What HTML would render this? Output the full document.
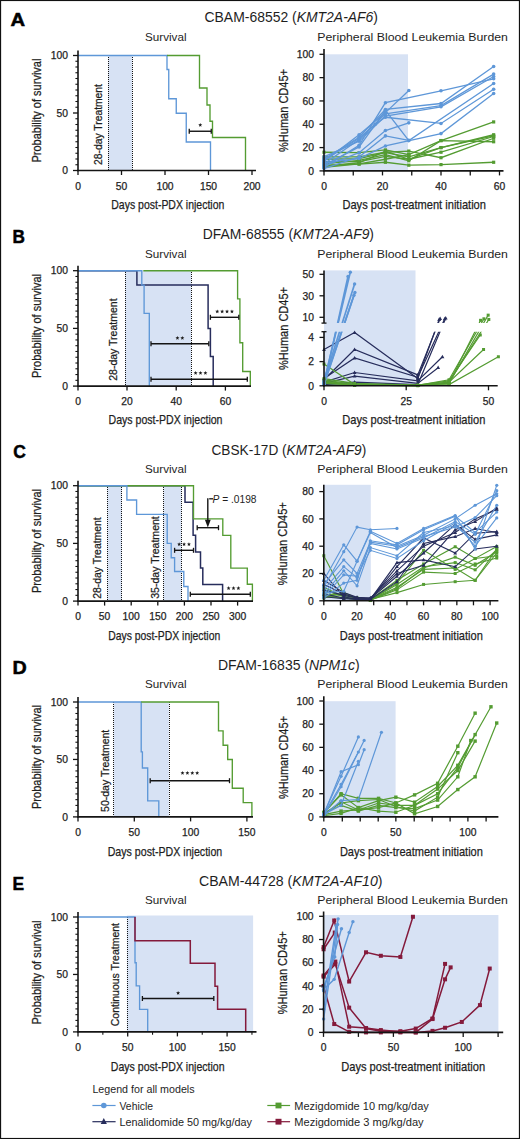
<!DOCTYPE html><html><head><meta charset="utf-8"><style>html,body{margin:0;padding:0;background:#fff;}svg{display:block;font-family:"Liberation Sans", sans-serif;}.m{stroke:#1e1e1e;stroke-width:0.25px;}</style></head><body>
<svg width="520" height="1139" viewBox="0 0 520 1139">
<rect x="0" y="0" width="520" height="1139" fill="#fff" />
<text x="10.5" y="26" font-size="18" text-anchor="start" fill="#000" font-weight="bold" textLength="14.6" lengthAdjust="spacingAndGlyphs" stroke="#000" stroke-width="0.5">A</text>
<text x="204.5" y="22.3" font-size="14" text-anchor="start" fill="#1e1e1e" textLength="173.5" lengthAdjust="spacingAndGlyphs" >CBAM-68552 (<tspan font-style="italic">KMT2A-AF6</tspan>)</text>
<text x="145" y="40.9" font-size="11.8" text-anchor="start" fill="#1e1e1e" textLength="41.5" lengthAdjust="spacingAndGlyphs" >Survival</text>
<text x="317.3" y="40.9" font-size="11.8" text-anchor="start" fill="#1e1e1e" textLength="190.6" lengthAdjust="spacingAndGlyphs" >Peripheral Blood Leukemia Burden</text>
<rect x="108.2" y="55.5" width="24.1" height="115" fill="#d7e2f4" />
<line x1="108.5" y1="55" x2="108.5" y2="170.5" stroke="#141414" stroke-width="1" stroke-dasharray="1 1"/>
<line x1="132.5" y1="55" x2="132.5" y2="170.5" stroke="#141414" stroke-width="1" stroke-dasharray="1 1"/>
<text x="101.8" y="165" font-size="11.2" text-anchor="start" fill="#1e1e1e" textLength="81" lengthAdjust="spacingAndGlyphs" transform="rotate(-90 101.8 165)" class="m">28-day Treatment</text>
<path d="M78,55.5 L167,55.5 L167,69.5 L168.75,69.5 L168.75,98.75 L176.25,98.75 L176.25,113.25 L186.25,113.25 L186.25,142 L210.5,142 L210.5,170.5" fill="none" stroke="#5e97d8" stroke-width="1.35" stroke-linejoin="miter"/>
<path d="M167,55.5 L199.5,55.5 L199.5,88 L207,88 L207,105 L210,105 L210,121.25 L212.5,121.25 L212.5,137.5 L245.5,137.5 L245.5,170.5" fill="none" stroke="#549c32" stroke-width="1.35" stroke-linejoin="miter"/>
<line x1="189.25" y1="131.25" x2="211.25" y2="131.25" stroke="#141414" stroke-width="1.4" />
<line x1="189.25" y1="128.75" x2="189.25" y2="133.75" stroke="#141414" stroke-width="1.3" />
<line x1="211.25" y1="128.75" x2="211.25" y2="133.75" stroke="#141414" stroke-width="1.3" />
<polygon points="200.25,122.9 200.81,124.24 202.25,124.35 201.15,125.29 201.48,126.7 200.25,125.94 199.02,126.7 199.35,125.29 198.25,124.35 199.69,124.24" fill="#1e1e1e"/>
<line x1="78" y1="50.5" x2="78" y2="171.2" stroke="#141414" stroke-width="1.6" />
<line x1="77.2" y1="170.5" x2="256" y2="170.5" stroke="#141414" stroke-width="1.6" />
<line x1="73" y1="170.5" x2="78" y2="170.5" stroke="#141414" stroke-width="1.3" />
<line x1="75.4" y1="164.75" x2="78" y2="164.75" stroke="#141414" stroke-width="1.1" />
<line x1="75.4" y1="159" x2="78" y2="159" stroke="#141414" stroke-width="1.1" />
<line x1="75.4" y1="153.25" x2="78" y2="153.25" stroke="#141414" stroke-width="1.1" />
<line x1="75.4" y1="147.5" x2="78" y2="147.5" stroke="#141414" stroke-width="1.1" />
<line x1="75.4" y1="141.75" x2="78" y2="141.75" stroke="#141414" stroke-width="1.1" />
<line x1="75.4" y1="136" x2="78" y2="136" stroke="#141414" stroke-width="1.1" />
<line x1="75.4" y1="130.25" x2="78" y2="130.25" stroke="#141414" stroke-width="1.1" />
<line x1="75.4" y1="124.5" x2="78" y2="124.5" stroke="#141414" stroke-width="1.1" />
<line x1="75.4" y1="118.75" x2="78" y2="118.75" stroke="#141414" stroke-width="1.1" />
<line x1="73" y1="113" x2="78" y2="113" stroke="#141414" stroke-width="1.3" />
<line x1="75.4" y1="107.25" x2="78" y2="107.25" stroke="#141414" stroke-width="1.1" />
<line x1="75.4" y1="101.5" x2="78" y2="101.5" stroke="#141414" stroke-width="1.1" />
<line x1="75.4" y1="95.75" x2="78" y2="95.75" stroke="#141414" stroke-width="1.1" />
<line x1="75.4" y1="90" x2="78" y2="90" stroke="#141414" stroke-width="1.1" />
<line x1="75.4" y1="84.25" x2="78" y2="84.25" stroke="#141414" stroke-width="1.1" />
<line x1="75.4" y1="78.5" x2="78" y2="78.5" stroke="#141414" stroke-width="1.1" />
<line x1="75.4" y1="72.75" x2="78" y2="72.75" stroke="#141414" stroke-width="1.1" />
<line x1="75.4" y1="67" x2="78" y2="67" stroke="#141414" stroke-width="1.1" />
<line x1="75.4" y1="61.25" x2="78" y2="61.25" stroke="#141414" stroke-width="1.1" />
<line x1="73" y1="55.5" x2="78" y2="55.5" stroke="#141414" stroke-width="1.3" />
<text x="68" y="59.2" font-size="10.3" text-anchor="end" fill="#1e1e1e" class="m">100</text>
<text x="68" y="116.7" font-size="10.3" text-anchor="end" fill="#1e1e1e" class="m">50</text>
<text x="68" y="174.2" font-size="10.3" text-anchor="end" fill="#1e1e1e" class="m">0</text>
<line x1="78" y1="170.5" x2="78" y2="175" stroke="#141414" stroke-width="1.3" />
<text x="78" y="189.5" font-size="10.3" text-anchor="middle" fill="#1e1e1e" class="m">0</text>
<line x1="121.5" y1="170.5" x2="121.5" y2="175" stroke="#141414" stroke-width="1.3" />
<text x="121.5" y="189.5" font-size="10.3" text-anchor="middle" fill="#1e1e1e" class="m">50</text>
<line x1="165" y1="170.5" x2="165" y2="175" stroke="#141414" stroke-width="1.3" />
<text x="165" y="189.5" font-size="10.3" text-anchor="middle" fill="#1e1e1e" class="m">100</text>
<line x1="208.5" y1="170.5" x2="208.5" y2="175" stroke="#141414" stroke-width="1.3" />
<text x="208.5" y="189.5" font-size="10.3" text-anchor="middle" fill="#1e1e1e" class="m">150</text>
<line x1="252" y1="170.5" x2="252" y2="175" stroke="#141414" stroke-width="1.3" />
<text x="252" y="189.5" font-size="10.3" text-anchor="middle" fill="#1e1e1e" class="m">200</text>
<text x="40.8" y="110.6" font-size="12" text-anchor="middle" fill="#1e1e1e" textLength="104" lengthAdjust="spacingAndGlyphs" transform="rotate(-90 40.8 110.6)" class="m">Probability of survival</text>
<text x="167.8" y="208.9" font-size="12.8" text-anchor="middle" fill="#1e1e1e" textLength="113" lengthAdjust="spacingAndGlyphs" class="m">Days post-PDX injection</text>
<rect x="324" y="54.3" width="84" height="116.6" fill="#d7e2f4" />
<polyline points="324,152.24 359.1,152.71 385.43,149.91 408.82,154.58 441,140.58 493.65,121.93" fill="none" stroke="#549c32" stroke-width="1.3" stroke-linejoin="miter" />
<polyline points="324,159.24 359.1,158.54 385.43,152.71 408.82,156.91 441,147.58 493.65,134.75" fill="none" stroke="#549c32" stroke-width="1.3" stroke-linejoin="miter" />
<polyline points="324,161.57 359.1,161.57 385.43,156.44 408.82,159.24 441,152.24 493.65,136.5" fill="none" stroke="#549c32" stroke-width="1.3" stroke-linejoin="miter" />
<polyline points="324,165.07 359.1,164.14 385.43,162.27 408.82,165.19 441,164.6 493.65,162.27" fill="none" stroke="#549c32" stroke-width="1.3" stroke-linejoin="miter" />
<polyline points="324,156.91 359.1,156.91 385.43,152.24 408.82,151.08 441,157.72 493.65,138.25" fill="none" stroke="#549c32" stroke-width="1.3" stroke-linejoin="miter" />
<polyline points="324,163.9 359.1,160.41 385.43,154.58 408.82,160.76 441,140.58 493.65,141.75" fill="none" stroke="#549c32" stroke-width="1.3" stroke-linejoin="miter" />
<polyline points="324,167.4 359.1,163.9 385.43,159.24 408.82,154.58" fill="none" stroke="#549c32" stroke-width="1.3" stroke-linejoin="miter" />
<polyline points="324,166.24 359.1,162.74 385.43,151.08 408.82,159.24 441,147.58 493.65,135.92" fill="none" stroke="#549c32" stroke-width="1.3" stroke-linejoin="miter" />
<rect x="322.4" y="150.64" width="3.2" height="3.2" fill="#549c32"/>
<rect x="357.5" y="151.11" width="3.2" height="3.2" fill="#549c32"/>
<rect x="383.82" y="148.31" width="3.2" height="3.2" fill="#549c32"/>
<rect x="407.22" y="152.98" width="3.2" height="3.2" fill="#549c32"/>
<rect x="439.4" y="138.98" width="3.2" height="3.2" fill="#549c32"/>
<rect x="492.05" y="120.33" width="3.2" height="3.2" fill="#549c32"/>
<rect x="322.4" y="157.64" width="3.2" height="3.2" fill="#549c32"/>
<rect x="357.5" y="156.94" width="3.2" height="3.2" fill="#549c32"/>
<rect x="383.82" y="151.11" width="3.2" height="3.2" fill="#549c32"/>
<rect x="407.22" y="155.31" width="3.2" height="3.2" fill="#549c32"/>
<rect x="439.4" y="145.98" width="3.2" height="3.2" fill="#549c32"/>
<rect x="492.05" y="133.15" width="3.2" height="3.2" fill="#549c32"/>
<rect x="322.4" y="159.97" width="3.2" height="3.2" fill="#549c32"/>
<rect x="357.5" y="159.97" width="3.2" height="3.2" fill="#549c32"/>
<rect x="383.82" y="154.84" width="3.2" height="3.2" fill="#549c32"/>
<rect x="407.22" y="157.64" width="3.2" height="3.2" fill="#549c32"/>
<rect x="439.4" y="150.64" width="3.2" height="3.2" fill="#549c32"/>
<rect x="492.05" y="134.9" width="3.2" height="3.2" fill="#549c32"/>
<rect x="322.4" y="163.47" width="3.2" height="3.2" fill="#549c32"/>
<rect x="357.5" y="162.54" width="3.2" height="3.2" fill="#549c32"/>
<rect x="383.82" y="160.67" width="3.2" height="3.2" fill="#549c32"/>
<rect x="407.22" y="163.59" width="3.2" height="3.2" fill="#549c32"/>
<rect x="439.4" y="163" width="3.2" height="3.2" fill="#549c32"/>
<rect x="492.05" y="160.67" width="3.2" height="3.2" fill="#549c32"/>
<rect x="322.4" y="155.31" width="3.2" height="3.2" fill="#549c32"/>
<rect x="357.5" y="155.31" width="3.2" height="3.2" fill="#549c32"/>
<rect x="383.82" y="150.64" width="3.2" height="3.2" fill="#549c32"/>
<rect x="407.22" y="149.48" width="3.2" height="3.2" fill="#549c32"/>
<rect x="439.4" y="156.12" width="3.2" height="3.2" fill="#549c32"/>
<rect x="492.05" y="136.65" width="3.2" height="3.2" fill="#549c32"/>
<rect x="322.4" y="162.3" width="3.2" height="3.2" fill="#549c32"/>
<rect x="357.5" y="158.81" width="3.2" height="3.2" fill="#549c32"/>
<rect x="383.82" y="152.98" width="3.2" height="3.2" fill="#549c32"/>
<rect x="407.22" y="159.16" width="3.2" height="3.2" fill="#549c32"/>
<rect x="439.4" y="138.98" width="3.2" height="3.2" fill="#549c32"/>
<rect x="492.05" y="140.15" width="3.2" height="3.2" fill="#549c32"/>
<rect x="322.4" y="165.8" width="3.2" height="3.2" fill="#549c32"/>
<rect x="357.5" y="162.3" width="3.2" height="3.2" fill="#549c32"/>
<rect x="383.82" y="157.64" width="3.2" height="3.2" fill="#549c32"/>
<rect x="407.22" y="152.98" width="3.2" height="3.2" fill="#549c32"/>
<rect x="322.4" y="164.64" width="3.2" height="3.2" fill="#549c32"/>
<rect x="357.5" y="161.14" width="3.2" height="3.2" fill="#549c32"/>
<rect x="383.82" y="149.48" width="3.2" height="3.2" fill="#549c32"/>
<rect x="407.22" y="157.64" width="3.2" height="3.2" fill="#549c32"/>
<rect x="439.4" y="145.98" width="3.2" height="3.2" fill="#549c32"/>
<rect x="492.05" y="134.32" width="3.2" height="3.2" fill="#549c32"/>
<polyline points="324,161.57 359.1,134.75 385.43,112.6 408.82,90.45" fill="none" stroke="#5e97d8" stroke-width="1.3" stroke-linejoin="miter" />
<polyline points="324,167.4 359.1,145.25 385.43,102.69 441,90.8 493.65,78.79" fill="none" stroke="#5e97d8" stroke-width="1.3" stroke-linejoin="miter" />
<polyline points="324,159.24 359.1,137.32 385.43,109.45 441,103.51 493.65,66.54" fill="none" stroke="#5e97d8" stroke-width="1.3" stroke-linejoin="miter" />
<polyline points="324,163.9 359.1,139.42 385.43,113.77 441,105.6 493.65,74.12" fill="none" stroke="#5e97d8" stroke-width="1.3" stroke-linejoin="miter" />
<polyline points="324,156.91 359.1,141.17 385.43,116.1 441,106.77 493.65,76.45" fill="none" stroke="#5e97d8" stroke-width="1.3" stroke-linejoin="miter" />
<polyline points="324,165.07 359.1,146.88 385.43,110.27 408.82,140.58 493.65,83.45" fill="none" stroke="#5e97d8" stroke-width="1.3" stroke-linejoin="miter" />
<polyline points="324,166.24 359.1,152.71 385.43,130.56 408.82,122.86" fill="none" stroke="#5e97d8" stroke-width="1.3" stroke-linejoin="miter" />
<polyline points="324,162.74 359.1,158.54 385.43,145.95 441,133.59 493.65,93.48" fill="none" stroke="#5e97d8" stroke-width="1.3" stroke-linejoin="miter" />
<polyline points="324,160.41 359.1,138.25 375.19,124.26 385.43,117.26 441,123.44 493.65,89.28" fill="none" stroke="#5e97d8" stroke-width="1.3" stroke-linejoin="miter" />
<polyline points="324,168.57 359.1,156.91 385.43,135.92 408.82,140.35" fill="none" stroke="#5e97d8" stroke-width="1.3" stroke-linejoin="miter" />
<circle cx="324" cy="161.57" r="1.8" fill="#5e97d8"/>
<circle cx="359.1" cy="134.75" r="1.8" fill="#5e97d8"/>
<circle cx="385.43" cy="112.6" r="1.8" fill="#5e97d8"/>
<circle cx="408.82" cy="90.45" r="1.8" fill="#5e97d8"/>
<circle cx="324" cy="167.4" r="1.8" fill="#5e97d8"/>
<circle cx="359.1" cy="145.25" r="1.8" fill="#5e97d8"/>
<circle cx="385.43" cy="102.69" r="1.8" fill="#5e97d8"/>
<circle cx="441" cy="90.8" r="1.8" fill="#5e97d8"/>
<circle cx="493.65" cy="78.79" r="1.8" fill="#5e97d8"/>
<circle cx="324" cy="159.24" r="1.8" fill="#5e97d8"/>
<circle cx="359.1" cy="137.32" r="1.8" fill="#5e97d8"/>
<circle cx="385.43" cy="109.45" r="1.8" fill="#5e97d8"/>
<circle cx="441" cy="103.51" r="1.8" fill="#5e97d8"/>
<circle cx="493.65" cy="66.54" r="1.8" fill="#5e97d8"/>
<circle cx="324" cy="163.9" r="1.8" fill="#5e97d8"/>
<circle cx="359.1" cy="139.42" r="1.8" fill="#5e97d8"/>
<circle cx="385.43" cy="113.77" r="1.8" fill="#5e97d8"/>
<circle cx="441" cy="105.6" r="1.8" fill="#5e97d8"/>
<circle cx="493.65" cy="74.12" r="1.8" fill="#5e97d8"/>
<circle cx="324" cy="156.91" r="1.8" fill="#5e97d8"/>
<circle cx="359.1" cy="141.17" r="1.8" fill="#5e97d8"/>
<circle cx="385.43" cy="116.1" r="1.8" fill="#5e97d8"/>
<circle cx="441" cy="106.77" r="1.8" fill="#5e97d8"/>
<circle cx="493.65" cy="76.45" r="1.8" fill="#5e97d8"/>
<circle cx="324" cy="165.07" r="1.8" fill="#5e97d8"/>
<circle cx="359.1" cy="146.88" r="1.8" fill="#5e97d8"/>
<circle cx="385.43" cy="110.27" r="1.8" fill="#5e97d8"/>
<circle cx="408.82" cy="140.58" r="1.8" fill="#5e97d8"/>
<circle cx="493.65" cy="83.45" r="1.8" fill="#5e97d8"/>
<circle cx="324" cy="166.24" r="1.8" fill="#5e97d8"/>
<circle cx="359.1" cy="152.71" r="1.8" fill="#5e97d8"/>
<circle cx="385.43" cy="130.56" r="1.8" fill="#5e97d8"/>
<circle cx="408.82" cy="122.86" r="1.8" fill="#5e97d8"/>
<circle cx="324" cy="162.74" r="1.8" fill="#5e97d8"/>
<circle cx="359.1" cy="158.54" r="1.8" fill="#5e97d8"/>
<circle cx="385.43" cy="145.95" r="1.8" fill="#5e97d8"/>
<circle cx="441" cy="133.59" r="1.8" fill="#5e97d8"/>
<circle cx="493.65" cy="93.48" r="1.8" fill="#5e97d8"/>
<circle cx="324" cy="160.41" r="1.8" fill="#5e97d8"/>
<circle cx="359.1" cy="138.25" r="1.8" fill="#5e97d8"/>
<circle cx="375.19" cy="124.26" r="1.8" fill="#5e97d8"/>
<circle cx="385.43" cy="117.26" r="1.8" fill="#5e97d8"/>
<circle cx="441" cy="123.44" r="1.8" fill="#5e97d8"/>
<circle cx="493.65" cy="89.28" r="1.8" fill="#5e97d8"/>
<circle cx="324" cy="168.57" r="1.8" fill="#5e97d8"/>
<circle cx="359.1" cy="156.91" r="1.8" fill="#5e97d8"/>
<circle cx="385.43" cy="135.92" r="1.8" fill="#5e97d8"/>
<circle cx="408.82" cy="140.35" r="1.8" fill="#5e97d8"/>
<line x1="324" y1="49" x2="324" y2="171.6" stroke="#141414" stroke-width="1.6" />
<line x1="323.2" y1="170.9" x2="503.5" y2="170.9" stroke="#141414" stroke-width="1.6" />
<line x1="319.5" y1="170.9" x2="324" y2="170.9" stroke="#141414" stroke-width="1.3" />
<text x="314" y="174.6" font-size="10.3" text-anchor="end" fill="#1e1e1e" class="m">0</text>
<line x1="319.5" y1="147.58" x2="324" y2="147.58" stroke="#141414" stroke-width="1.3" />
<text x="314" y="151.28" font-size="10.3" text-anchor="end" fill="#1e1e1e" class="m">20</text>
<line x1="319.5" y1="124.26" x2="324" y2="124.26" stroke="#141414" stroke-width="1.3" />
<text x="314" y="127.96" font-size="10.3" text-anchor="end" fill="#1e1e1e" class="m">40</text>
<line x1="319.5" y1="100.94" x2="324" y2="100.94" stroke="#141414" stroke-width="1.3" />
<text x="314" y="104.64" font-size="10.3" text-anchor="end" fill="#1e1e1e" class="m">60</text>
<line x1="319.5" y1="77.62" x2="324" y2="77.62" stroke="#141414" stroke-width="1.3" />
<text x="314" y="81.32" font-size="10.3" text-anchor="end" fill="#1e1e1e" class="m">80</text>
<line x1="319.5" y1="54.3" x2="324" y2="54.3" stroke="#141414" stroke-width="1.3" />
<text x="314" y="58" font-size="10.3" text-anchor="end" fill="#1e1e1e" class="m">100</text>
<line x1="324" y1="170.9" x2="324" y2="175.4" stroke="#141414" stroke-width="1.3" />
<text x="324" y="189.9" font-size="10.3" text-anchor="middle" fill="#1e1e1e" class="m">0</text>
<line x1="382.5" y1="170.9" x2="382.5" y2="175.4" stroke="#141414" stroke-width="1.3" />
<text x="382.5" y="189.9" font-size="10.3" text-anchor="middle" fill="#1e1e1e" class="m">20</text>
<line x1="441" y1="170.9" x2="441" y2="175.4" stroke="#141414" stroke-width="1.3" />
<text x="441" y="189.9" font-size="10.3" text-anchor="middle" fill="#1e1e1e" class="m">40</text>
<line x1="499.5" y1="170.9" x2="499.5" y2="175.4" stroke="#141414" stroke-width="1.3" />
<text x="499.5" y="189.9" font-size="10.3" text-anchor="middle" fill="#1e1e1e" class="m">60</text>
<line x1="353.25" y1="170.9" x2="353.25" y2="175.4" stroke="#141414" stroke-width="1.3" />
<line x1="411.75" y1="170.9" x2="411.75" y2="175.4" stroke="#141414" stroke-width="1.3" />
<line x1="470.25" y1="170.9" x2="470.25" y2="175.4" stroke="#141414" stroke-width="1.3" />
<text x="287.5" y="110.5" font-size="12" text-anchor="middle" fill="#1e1e1e" textLength="83" lengthAdjust="spacingAndGlyphs" transform="rotate(-90 287.5 110.5)" class="m">%Human CD45+</text>
<text x="414.2" y="209" font-size="12.8" text-anchor="middle" fill="#1e1e1e" textLength="143.5" lengthAdjust="spacingAndGlyphs" class="m">Days post-treatment initiation</text>
<text x="12.6" y="242.5" font-size="18" text-anchor="start" fill="#000" font-weight="bold" textLength="12.4" lengthAdjust="spacingAndGlyphs" stroke="#000" stroke-width="0.5">B</text>
<text x="202.8" y="239.2" font-size="14" text-anchor="start" fill="#1e1e1e" textLength="171.2" lengthAdjust="spacingAndGlyphs" >DFAM-68555 (<tspan font-style="italic">KMT2A-AF9</tspan>)</text>
<text x="145" y="257.9" font-size="11.8" text-anchor="start" fill="#1e1e1e" textLength="41.5" lengthAdjust="spacingAndGlyphs" >Survival</text>
<text x="317.3" y="257.9" font-size="11.8" text-anchor="start" fill="#1e1e1e" textLength="190.6" lengthAdjust="spacingAndGlyphs" >Peripheral Blood Leukemia Burden</text>
<rect x="125" y="270.7" width="66.2" height="115.4" fill="#d7e2f4" />
<line x1="125.5" y1="270" x2="125.5" y2="386.1" stroke="#141414" stroke-width="1" stroke-dasharray="1 1"/>
<line x1="191.5" y1="270" x2="191.5" y2="386.1" stroke="#141414" stroke-width="1" stroke-dasharray="1 1"/>
<text x="117.5" y="380.8" font-size="11.2" text-anchor="start" fill="#1e1e1e" textLength="82.4" lengthAdjust="spacingAndGlyphs" transform="rotate(-90 117.5 380.8)" class="m">28-day Treatment</text>
<path d="M78,270.7 L136.9,270.7 L136.9,285.1 L208.1,285.1 L208.1,328.4 L210.4,328.4 L210.4,356.5 L213.2,356.5 L213.2,386.1" fill="none" stroke="#272d5c" stroke-width="1.5" stroke-linejoin="miter"/>
<path d="M143.3,270.7 L237.6,270.7 L237.6,298.8 L239.9,298.8 L239.9,342.7 L242.7,342.7 L242.7,371.5 L250.3,371.5 L250.3,386.1" fill="none" stroke="#549c32" stroke-width="1.35" stroke-linejoin="miter"/>
<path d="M78,270.7 L141.8,270.7 L141.8,285.1 L144.1,285.1 L144.1,313.4 L149.3,313.4 L149.3,386.1" fill="none" stroke="#5e97d8" stroke-width="1.35" stroke-linejoin="miter"/>
<line x1="210.4" y1="317.3" x2="238.8" y2="317.3" stroke="#141414" stroke-width="1.4" />
<line x1="210.4" y1="314.8" x2="210.4" y2="319.8" stroke="#141414" stroke-width="1.3" />
<line x1="238.8" y1="314.8" x2="238.8" y2="319.8" stroke="#141414" stroke-width="1.3" />
<polygon points="217.25,309.4 217.81,310.74 219.25,310.85 218.15,311.79 218.48,313.2 217.25,312.44 216.02,313.2 216.35,311.79 215.25,310.85 216.69,310.74" fill="#1e1e1e"/>
<polygon points="222.15,309.4 222.71,310.74 224.15,310.85 223.05,311.79 223.38,313.2 222.15,312.44 220.92,313.2 221.25,311.79 220.15,310.85 221.59,310.74" fill="#1e1e1e"/>
<polygon points="227.05,309.4 227.61,310.74 229.05,310.85 227.95,311.79 228.28,313.2 227.05,312.44 225.82,313.2 226.15,311.79 225.05,310.85 226.49,310.74" fill="#1e1e1e"/>
<polygon points="231.95,309.4 232.51,310.74 233.95,310.85 232.85,311.79 233.18,313.2 231.95,312.44 230.72,313.2 231.05,311.79 229.95,310.85 231.39,310.74" fill="#1e1e1e"/>
<line x1="151" y1="343.8" x2="208.8" y2="343.8" stroke="#141414" stroke-width="1.4" />
<line x1="151" y1="341.3" x2="151" y2="346.3" stroke="#141414" stroke-width="1.3" />
<line x1="208.8" y1="341.3" x2="208.8" y2="346.3" stroke="#141414" stroke-width="1.3" />
<polygon points="177.45,335.9 178.01,337.24 179.45,337.35 178.35,338.29 178.68,339.7 177.45,338.94 176.22,339.7 176.55,338.29 175.45,337.35 176.89,337.24" fill="#1e1e1e"/>
<polygon points="182.35,335.9 182.91,337.24 184.35,337.35 183.25,338.29 183.58,339.7 182.35,338.94 181.12,339.7 181.45,338.29 180.35,337.35 181.79,337.24" fill="#1e1e1e"/>
<line x1="151" y1="379.2" x2="247.3" y2="379.2" stroke="#141414" stroke-width="1.4" />
<line x1="151" y1="376.7" x2="151" y2="381.7" stroke="#141414" stroke-width="1.3" />
<line x1="247.3" y1="376.7" x2="247.3" y2="381.7" stroke="#141414" stroke-width="1.3" />
<polygon points="195.6,370.9 196.16,372.24 197.6,372.35 196.5,373.29 196.83,374.7 195.6,373.94 194.37,374.7 194.7,373.29 193.6,372.35 195.04,372.24" fill="#1e1e1e"/>
<polygon points="200.5,370.9 201.06,372.24 202.5,372.35 201.4,373.29 201.73,374.7 200.5,373.94 199.27,374.7 199.6,373.29 198.5,372.35 199.94,372.24" fill="#1e1e1e"/>
<polygon points="205.4,370.9 205.96,372.24 207.4,372.35 206.3,373.29 206.63,374.7 205.4,373.94 204.17,374.7 204.5,373.29 203.4,372.35 204.84,372.24" fill="#1e1e1e"/>
<line x1="78" y1="265.7" x2="78" y2="386.8" stroke="#141414" stroke-width="1.6" />
<line x1="77.2" y1="386.1" x2="251" y2="386.1" stroke="#141414" stroke-width="1.6" />
<line x1="73" y1="386.1" x2="78" y2="386.1" stroke="#141414" stroke-width="1.3" />
<line x1="75.4" y1="380.33" x2="78" y2="380.33" stroke="#141414" stroke-width="1.1" />
<line x1="75.4" y1="374.56" x2="78" y2="374.56" stroke="#141414" stroke-width="1.1" />
<line x1="75.4" y1="368.79" x2="78" y2="368.79" stroke="#141414" stroke-width="1.1" />
<line x1="75.4" y1="363.02" x2="78" y2="363.02" stroke="#141414" stroke-width="1.1" />
<line x1="75.4" y1="357.25" x2="78" y2="357.25" stroke="#141414" stroke-width="1.1" />
<line x1="75.4" y1="351.48" x2="78" y2="351.48" stroke="#141414" stroke-width="1.1" />
<line x1="75.4" y1="345.71" x2="78" y2="345.71" stroke="#141414" stroke-width="1.1" />
<line x1="75.4" y1="339.94" x2="78" y2="339.94" stroke="#141414" stroke-width="1.1" />
<line x1="75.4" y1="334.17" x2="78" y2="334.17" stroke="#141414" stroke-width="1.1" />
<line x1="73" y1="328.4" x2="78" y2="328.4" stroke="#141414" stroke-width="1.3" />
<line x1="75.4" y1="322.63" x2="78" y2="322.63" stroke="#141414" stroke-width="1.1" />
<line x1="75.4" y1="316.86" x2="78" y2="316.86" stroke="#141414" stroke-width="1.1" />
<line x1="75.4" y1="311.09" x2="78" y2="311.09" stroke="#141414" stroke-width="1.1" />
<line x1="75.4" y1="305.32" x2="78" y2="305.32" stroke="#141414" stroke-width="1.1" />
<line x1="75.4" y1="299.55" x2="78" y2="299.55" stroke="#141414" stroke-width="1.1" />
<line x1="75.4" y1="293.78" x2="78" y2="293.78" stroke="#141414" stroke-width="1.1" />
<line x1="75.4" y1="288.01" x2="78" y2="288.01" stroke="#141414" stroke-width="1.1" />
<line x1="75.4" y1="282.24" x2="78" y2="282.24" stroke="#141414" stroke-width="1.1" />
<line x1="75.4" y1="276.47" x2="78" y2="276.47" stroke="#141414" stroke-width="1.1" />
<line x1="73" y1="270.7" x2="78" y2="270.7" stroke="#141414" stroke-width="1.3" />
<text x="68" y="274.4" font-size="10.3" text-anchor="end" fill="#1e1e1e" class="m">100</text>
<text x="68" y="332.1" font-size="10.3" text-anchor="end" fill="#1e1e1e" class="m">50</text>
<text x="68" y="389.8" font-size="10.3" text-anchor="end" fill="#1e1e1e" class="m">0</text>
<line x1="78" y1="386.1" x2="78" y2="390.6" stroke="#141414" stroke-width="1.3" />
<text x="78" y="405.1" font-size="10.3" text-anchor="middle" fill="#1e1e1e" class="m">0</text>
<line x1="127" y1="386.1" x2="127" y2="390.6" stroke="#141414" stroke-width="1.3" />
<text x="127" y="405.1" font-size="10.3" text-anchor="middle" fill="#1e1e1e" class="m">20</text>
<line x1="176.2" y1="386.1" x2="176.2" y2="390.6" stroke="#141414" stroke-width="1.3" />
<text x="176.2" y="405.1" font-size="10.3" text-anchor="middle" fill="#1e1e1e" class="m">40</text>
<line x1="225.4" y1="386.1" x2="225.4" y2="390.6" stroke="#141414" stroke-width="1.3" />
<text x="225.4" y="405.1" font-size="10.3" text-anchor="middle" fill="#1e1e1e" class="m">60</text>
<text x="40.8" y="326" font-size="12" text-anchor="middle" fill="#1e1e1e" textLength="104" lengthAdjust="spacingAndGlyphs" transform="rotate(-90 40.8 326)" class="m">Probability of survival</text>
<text x="165.5" y="424.4" font-size="12.8" text-anchor="middle" fill="#1e1e1e" textLength="114" lengthAdjust="spacingAndGlyphs" class="m">Days post-PDX injection</text>
<clipPath id="cbU"><rect x="322" y="250" width="200" height="73.1"/></clipPath>
<clipPath id="cbL"><rect x="322" y="331.7" width="200" height="60"/></clipPath>
<rect x="324" y="270.4" width="91.5" height="115.4" fill="#d7e2f4" />
<polyline points="324,349.5 354.6,332.56 417.76,378.54 439.15,319.45" fill="none" stroke="#272d5c" stroke-width="1.2" stroke-linejoin="miter"  clip-path="url(#cbU)"/>
<polyline points="324,349.5 354.6,332.56 417.76,378.54 439.15,319.45" fill="none" stroke="#272d5c" stroke-width="1.2" stroke-linejoin="miter"  clip-path="url(#cbL)"/>
<polyline points="324,379.75 354.6,349.5 417.76,374.91 440.14,318.59" fill="none" stroke="#272d5c" stroke-width="1.2" stroke-linejoin="miter"  clip-path="url(#cbU)"/>
<polyline points="324,379.75 354.6,349.5 417.76,374.91 440.14,318.59" fill="none" stroke="#272d5c" stroke-width="1.2" stroke-linejoin="miter"  clip-path="url(#cbL)"/>
<polyline points="324,378.54 354.6,357.97 417.76,377.33 444.74,318.81" fill="none" stroke="#272d5c" stroke-width="1.2" stroke-linejoin="miter"  clip-path="url(#cbU)"/>
<polyline points="324,378.54 354.6,357.97 417.76,377.33 444.74,318.81" fill="none" stroke="#272d5c" stroke-width="1.2" stroke-linejoin="miter"  clip-path="url(#cbL)"/>
<polyline points="324,382.17 354.6,372.49 417.76,380.96 442.44,356.76" fill="none" stroke="#272d5c" stroke-width="1.2" stroke-linejoin="miter"  clip-path="url(#cbU)"/>
<polyline points="324,382.17 354.6,372.49 417.76,380.96 442.44,356.76" fill="none" stroke="#272d5c" stroke-width="1.2" stroke-linejoin="miter"  clip-path="url(#cbL)"/>
<polyline points="324,383.38 354.6,376.12 417.76,383.38 438.16,367.65" fill="none" stroke="#272d5c" stroke-width="1.2" stroke-linejoin="miter"  clip-path="url(#cbU)"/>
<polyline points="324,383.38 354.6,376.12 417.76,383.38 438.16,367.65" fill="none" stroke="#272d5c" stroke-width="1.2" stroke-linejoin="miter"  clip-path="url(#cbL)"/>
<polyline points="324,384.59 354.6,382.17 417.76,384.59 445.73,318.16" fill="none" stroke="#272d5c" stroke-width="1.2" stroke-linejoin="miter"  clip-path="url(#cbU)"/>
<polyline points="324,384.59 354.6,382.17 417.76,384.59 445.73,318.16" fill="none" stroke="#272d5c" stroke-width="1.2" stroke-linejoin="miter"  clip-path="url(#cbL)"/>
<polyline points="324,383.99 354.6,383.99 417.76,385.19" fill="none" stroke="#272d5c" stroke-width="1.2" stroke-linejoin="miter"  clip-path="url(#cbU)"/>
<polyline points="324,383.99 354.6,383.99 417.76,385.19" fill="none" stroke="#272d5c" stroke-width="1.2" stroke-linejoin="miter"  clip-path="url(#cbL)"/>
<polyline points="324,364.02 354.6,384.59 417.76,385.19 449.02,383.38 480.6,320.31" fill="none" stroke="#549c32" stroke-width="1.2" stroke-linejoin="miter"  clip-path="url(#cbU)"/>
<polyline points="324,364.02 354.6,384.59 417.76,385.19 449.02,383.38 480.6,320.31" fill="none" stroke="#549c32" stroke-width="1.2" stroke-linejoin="miter"  clip-path="url(#cbL)"/>
<polyline points="324,378.54 354.6,383.38 417.76,385.19 449.02,380.96 480.27,334.98" fill="none" stroke="#549c32" stroke-width="1.2" stroke-linejoin="miter"  clip-path="url(#cbU)"/>
<polyline points="324,378.54 354.6,383.38 417.76,385.19 449.02,380.96 480.27,334.98" fill="none" stroke="#549c32" stroke-width="1.2" stroke-linejoin="miter"  clip-path="url(#cbL)"/>
<polyline points="324,382.17 354.6,385.19 417.76,385.56 449.02,382.17 483.56,349.5" fill="none" stroke="#549c32" stroke-width="1.2" stroke-linejoin="miter"  clip-path="url(#cbU)"/>
<polyline points="324,382.17 354.6,385.19 417.76,385.56 449.02,382.17 483.56,349.5" fill="none" stroke="#549c32" stroke-width="1.2" stroke-linejoin="miter"  clip-path="url(#cbL)"/>
<polyline points="324,383.38 354.6,385.19 417.76,385.56 449.02,384.59 498.37,356.76" fill="none" stroke="#549c32" stroke-width="1.2" stroke-linejoin="miter"  clip-path="url(#cbU)"/>
<polyline points="324,383.38 354.6,385.19 417.76,385.56 449.02,384.59 498.37,356.76" fill="none" stroke="#549c32" stroke-width="1.2" stroke-linejoin="miter"  clip-path="url(#cbL)"/>
<polyline points="324,379.75 354.6,384.59 417.76,385.44 449.02,379.75 483.89,318.81" fill="none" stroke="#549c32" stroke-width="1.2" stroke-linejoin="miter"  clip-path="url(#cbU)"/>
<polyline points="324,379.75 354.6,384.59 417.76,385.44 449.02,379.75 483.89,318.81" fill="none" stroke="#549c32" stroke-width="1.2" stroke-linejoin="miter"  clip-path="url(#cbL)"/>
<polyline points="324,380.96 354.6,385.19 417.76,385.56 449.02,383.38 488.17,315.15" fill="none" stroke="#549c32" stroke-width="1.2" stroke-linejoin="miter"  clip-path="url(#cbU)"/>
<polyline points="324,380.96 354.6,385.19 417.76,385.56 449.02,383.38 488.17,315.15" fill="none" stroke="#549c32" stroke-width="1.2" stroke-linejoin="miter"  clip-path="url(#cbL)"/>
<polyline points="324,382.17 354.6,385.19 417.76,385.56 449.02,382.17 488.83,319.45" fill="none" stroke="#549c32" stroke-width="1.2" stroke-linejoin="miter"  clip-path="url(#cbU)"/>
<polyline points="324,382.17 354.6,385.19 417.76,385.56 449.02,382.17 488.83,319.45" fill="none" stroke="#549c32" stroke-width="1.2" stroke-linejoin="miter"  clip-path="url(#cbL)"/>
<polyline points="324,382.17 350.32,272.15" fill="none" stroke="#5e97d8" stroke-width="1.7" stroke-linejoin="miter"  clip-path="url(#cbU)"/>
<polyline points="324,382.17 350.32,272.15" fill="none" stroke="#5e97d8" stroke-width="1.7" stroke-linejoin="miter"  clip-path="url(#cbL)"/>
<polyline points="324,384.59 348.02,276.45" fill="none" stroke="#5e97d8" stroke-width="1.7" stroke-linejoin="miter"  clip-path="url(#cbU)"/>
<polyline points="324,384.59 348.02,276.45" fill="none" stroke="#5e97d8" stroke-width="1.7" stroke-linejoin="miter"  clip-path="url(#cbL)"/>
<polyline points="324,380.96 354.6,283.98" fill="none" stroke="#5e97d8" stroke-width="1.7" stroke-linejoin="miter"  clip-path="url(#cbU)"/>
<polyline points="324,380.96 354.6,283.98" fill="none" stroke="#5e97d8" stroke-width="1.7" stroke-linejoin="miter"  clip-path="url(#cbL)"/>
<polyline points="324,383.38 354.93,292.57" fill="none" stroke="#5e97d8" stroke-width="1.7" stroke-linejoin="miter"  clip-path="url(#cbU)"/>
<polyline points="324,383.38 354.93,292.57" fill="none" stroke="#5e97d8" stroke-width="1.7" stroke-linejoin="miter"  clip-path="url(#cbL)"/>
<polyline points="324,384.59 353.94,295.26" fill="none" stroke="#5e97d8" stroke-width="1.7" stroke-linejoin="miter"  clip-path="url(#cbU)"/>
<polyline points="324,384.59 353.94,295.26" fill="none" stroke="#5e97d8" stroke-width="1.7" stroke-linejoin="miter"  clip-path="url(#cbL)"/>
<path d="M324,347.42 L322.08,350.94 L325.92,350.94 Z" fill="#272d5c"/>
<path d="M354.6,330.48 L352.68,334 L356.52,334 Z" fill="#272d5c"/>
<path d="M417.76,376.46 L415.84,379.98 L419.69,379.98 Z" fill="#272d5c"/>
<path d="M439.15,317.37 L437.23,320.89 L441.07,320.89 Z" fill="#272d5c"/>
<path d="M324,377.67 L322.08,381.19 L325.92,381.19 Z" fill="#272d5c"/>
<path d="M354.6,347.42 L352.68,350.94 L356.52,350.94 Z" fill="#272d5c"/>
<path d="M417.76,372.83 L415.84,376.35 L419.69,376.35 Z" fill="#272d5c"/>
<path d="M440.14,316.51 L438.22,320.03 L442.06,320.03 Z" fill="#272d5c"/>
<path d="M324,376.46 L322.08,379.98 L325.92,379.98 Z" fill="#272d5c"/>
<path d="M354.6,355.89 L352.68,359.41 L356.52,359.41 Z" fill="#272d5c"/>
<path d="M417.76,375.25 L415.84,378.77 L419.69,378.77 Z" fill="#272d5c"/>
<path d="M444.74,316.73 L442.82,320.25 L446.66,320.25 Z" fill="#272d5c"/>
<path d="M324,380.09 L322.08,383.61 L325.92,383.61 Z" fill="#272d5c"/>
<path d="M354.6,370.41 L352.68,373.93 L356.52,373.93 Z" fill="#272d5c"/>
<path d="M417.76,378.88 L415.84,382.4 L419.69,382.4 Z" fill="#272d5c"/>
<path d="M442.44,354.68 L440.52,358.2 L444.36,358.2 Z" fill="#272d5c"/>
<path d="M324,381.3 L322.08,384.82 L325.92,384.82 Z" fill="#272d5c"/>
<path d="M354.6,374.04 L352.68,377.56 L356.52,377.56 Z" fill="#272d5c"/>
<path d="M417.76,381.3 L415.84,384.82 L419.69,384.82 Z" fill="#272d5c"/>
<path d="M438.16,365.57 L436.24,369.09 L440.08,369.09 Z" fill="#272d5c"/>
<path d="M324,382.51 L322.08,386.03 L325.92,386.03 Z" fill="#272d5c"/>
<path d="M354.6,380.09 L352.68,383.61 L356.52,383.61 Z" fill="#272d5c"/>
<path d="M417.76,382.51 L415.84,386.03 L419.69,386.03 Z" fill="#272d5c"/>
<path d="M445.73,316.08 L443.81,319.6 L447.65,319.6 Z" fill="#272d5c"/>
<path d="M324,381.91 L322.08,385.43 L325.92,385.43 Z" fill="#272d5c"/>
<path d="M354.6,381.91 L352.68,385.43 L356.52,385.43 Z" fill="#272d5c"/>
<path d="M417.76,383.12 L415.84,386.63 L419.69,386.63 Z" fill="#272d5c"/>
<rect x="322.5" y="362.52" width="3" height="3" fill="#549c32"/>
<rect x="353.1" y="383.09" width="3" height="3" fill="#549c32"/>
<rect x="416.26" y="383.69" width="3" height="3" fill="#549c32"/>
<rect x="447.52" y="381.88" width="3" height="3" fill="#549c32"/>
<rect x="479.1" y="318.81" width="3" height="3" fill="#549c32"/>
<rect x="322.5" y="377.04" width="3" height="3" fill="#549c32"/>
<rect x="353.1" y="381.88" width="3" height="3" fill="#549c32"/>
<rect x="416.26" y="383.69" width="3" height="3" fill="#549c32"/>
<rect x="447.52" y="379.46" width="3" height="3" fill="#549c32"/>
<rect x="478.77" y="333.48" width="3" height="3" fill="#549c32"/>
<rect x="322.5" y="380.67" width="3" height="3" fill="#549c32"/>
<rect x="353.1" y="383.69" width="3" height="3" fill="#549c32"/>
<rect x="416.26" y="384.06" width="3" height="3" fill="#549c32"/>
<rect x="447.52" y="380.67" width="3" height="3" fill="#549c32"/>
<rect x="482.06" y="348" width="3" height="3" fill="#549c32"/>
<rect x="322.5" y="381.88" width="3" height="3" fill="#549c32"/>
<rect x="353.1" y="383.69" width="3" height="3" fill="#549c32"/>
<rect x="416.26" y="384.06" width="3" height="3" fill="#549c32"/>
<rect x="447.52" y="383.09" width="3" height="3" fill="#549c32"/>
<rect x="496.87" y="355.26" width="3" height="3" fill="#549c32"/>
<rect x="322.5" y="378.25" width="3" height="3" fill="#549c32"/>
<rect x="353.1" y="383.09" width="3" height="3" fill="#549c32"/>
<rect x="416.26" y="383.94" width="3" height="3" fill="#549c32"/>
<rect x="447.52" y="378.25" width="3" height="3" fill="#549c32"/>
<rect x="482.39" y="317.31" width="3" height="3" fill="#549c32"/>
<rect x="322.5" y="379.46" width="3" height="3" fill="#549c32"/>
<rect x="353.1" y="383.69" width="3" height="3" fill="#549c32"/>
<rect x="416.26" y="384.06" width="3" height="3" fill="#549c32"/>
<rect x="447.52" y="381.88" width="3" height="3" fill="#549c32"/>
<rect x="486.67" y="313.65" width="3" height="3" fill="#549c32"/>
<rect x="322.5" y="380.67" width="3" height="3" fill="#549c32"/>
<rect x="353.1" y="383.69" width="3" height="3" fill="#549c32"/>
<rect x="416.26" y="384.06" width="3" height="3" fill="#549c32"/>
<rect x="447.52" y="380.67" width="3" height="3" fill="#549c32"/>
<rect x="487.33" y="317.95" width="3" height="3" fill="#549c32"/>
<circle cx="324" cy="382.17" r="1.7" fill="#5e97d8"/>
<circle cx="350.32" cy="272.15" r="1.7" fill="#5e97d8"/>
<circle cx="324" cy="384.59" r="1.7" fill="#5e97d8"/>
<circle cx="348.02" cy="276.45" r="1.7" fill="#5e97d8"/>
<circle cx="324" cy="380.96" r="1.7" fill="#5e97d8"/>
<circle cx="354.6" cy="283.98" r="1.7" fill="#5e97d8"/>
<circle cx="324" cy="383.38" r="1.7" fill="#5e97d8"/>
<circle cx="354.93" cy="292.57" r="1.7" fill="#5e97d8"/>
<circle cx="324" cy="384.59" r="1.7" fill="#5e97d8"/>
<circle cx="353.94" cy="295.26" r="1.7" fill="#5e97d8"/>
<line x1="324" y1="270.4" x2="324" y2="323.1" stroke="#141414" stroke-width="1.6" />
<line x1="321.5" y1="323.1" x2="326.5" y2="323.1" stroke="#141414" stroke-width="1.3" />
<line x1="324" y1="331.7" x2="324" y2="386.5" stroke="#141414" stroke-width="1.6" />
<line x1="321.5" y1="331.7" x2="326.5" y2="331.7" stroke="#141414" stroke-width="1.3" />
<line x1="323.2" y1="385.8" x2="497.7" y2="385.8" stroke="#141414" stroke-width="1.6" />
<line x1="319.5" y1="274.3" x2="324" y2="274.3" stroke="#141414" stroke-width="1.3" />
<text x="314" y="278" font-size="10.3" text-anchor="end" fill="#1e1e1e" class="m">50</text>
<line x1="319.5" y1="295.8" x2="324" y2="295.8" stroke="#141414" stroke-width="1.3" />
<text x="314" y="299.5" font-size="10.3" text-anchor="end" fill="#1e1e1e" class="m">30</text>
<line x1="319.5" y1="317.3" x2="324" y2="317.3" stroke="#141414" stroke-width="1.3" />
<text x="314" y="321" font-size="10.3" text-anchor="end" fill="#1e1e1e" class="m">10</text>
<line x1="319.5" y1="337.4" x2="324" y2="337.4" stroke="#141414" stroke-width="1.3" />
<text x="314" y="341.1" font-size="10.3" text-anchor="end" fill="#1e1e1e" class="m">4</text>
<line x1="319.5" y1="361.6" x2="324" y2="361.6" stroke="#141414" stroke-width="1.3" />
<text x="314" y="365.3" font-size="10.3" text-anchor="end" fill="#1e1e1e" class="m">2</text>
<line x1="319.5" y1="385.8" x2="324" y2="385.8" stroke="#141414" stroke-width="1.3" />
<text x="314" y="389.5" font-size="10.3" text-anchor="end" fill="#1e1e1e" class="m">0</text>
<line x1="324" y1="385.8" x2="324" y2="390.3" stroke="#141414" stroke-width="1.3" />
<text x="324" y="404.8" font-size="10.3" text-anchor="middle" fill="#1e1e1e" class="m">0</text>
<line x1="406.2" y1="385.8" x2="406.2" y2="390.3" stroke="#141414" stroke-width="1.3" />
<text x="406.2" y="404.8" font-size="10.3" text-anchor="middle" fill="#1e1e1e" class="m">25</text>
<line x1="488.5" y1="385.8" x2="488.5" y2="390.3" stroke="#141414" stroke-width="1.3" />
<text x="488.5" y="404.8" font-size="10.3" text-anchor="middle" fill="#1e1e1e" class="m">50</text>
<text x="287.5" y="328.5" font-size="12" text-anchor="middle" fill="#1e1e1e" textLength="83" lengthAdjust="spacingAndGlyphs" transform="rotate(-90 287.5 328.5)" class="m">%Human CD45+</text>
<text x="413.8" y="424.2" font-size="12.8" text-anchor="middle" fill="#1e1e1e" textLength="143" lengthAdjust="spacingAndGlyphs" class="m">Days post-treatment initiation</text>
<text x="13.2" y="458.2" font-size="18" text-anchor="start" fill="#000" font-weight="bold" textLength="12.6" lengthAdjust="spacingAndGlyphs" stroke="#000" stroke-width="0.5">C</text>
<text x="211.5" y="455" font-size="14" text-anchor="start" fill="#1e1e1e" textLength="154.7" lengthAdjust="spacingAndGlyphs" >CBSK-17D (<tspan font-style="italic">KMT2A-AF9</tspan>)</text>
<text x="145" y="472.7" font-size="11.8" text-anchor="start" fill="#1e1e1e" textLength="41.5" lengthAdjust="spacingAndGlyphs" >Survival</text>
<text x="317.3" y="472.7" font-size="11.8" text-anchor="start" fill="#1e1e1e" textLength="190.6" lengthAdjust="spacingAndGlyphs" >Peripheral Blood Leukemia Burden</text>
<rect x="107.3" y="485.7" width="14.5" height="115.4" fill="#d7e2f4" />
<rect x="163.6" y="485.7" width="17.9" height="115.4" fill="#d7e2f4" />
<line x1="107.5" y1="485" x2="107.5" y2="601.1" stroke="#141414" stroke-width="1" stroke-dasharray="1 1"/>
<line x1="121.5" y1="485" x2="121.5" y2="601.1" stroke="#141414" stroke-width="1" stroke-dasharray="1 1"/>
<line x1="163.5" y1="485" x2="163.5" y2="601.1" stroke="#141414" stroke-width="1" stroke-dasharray="1 1"/>
<line x1="181.5" y1="485" x2="181.5" y2="601.1" stroke="#141414" stroke-width="1" stroke-dasharray="1 1"/>
<text x="100.8" y="598.8" font-size="11.2" text-anchor="start" fill="#1e1e1e" textLength="81.5" lengthAdjust="spacingAndGlyphs" transform="rotate(-90 100.8 598.8)" class="m">28-day Treatment</text>
<text x="159.3" y="598.8" font-size="11.2" text-anchor="start" fill="#1e1e1e" textLength="82.6" lengthAdjust="spacingAndGlyphs" transform="rotate(-90 159.3 598.8)" class="m">35-day Treatment</text>
<path d="M78,485.7 L185,485.7 L185,502.2 L193.1,502.2 L193.1,535.3 L195.6,535.3 L195.6,551.9 L200.5,551.9 L200.5,568.1 L202.8,568.1 L202.8,584.5 L222.6,584.5 L222.6,601.1" fill="none" stroke="#272d5c" stroke-width="1.5" stroke-linejoin="miter"/>
<path d="M78,485.7 L193.5,485.7 L193.5,518.9 L222.8,518.9 L222.8,535.3 L230.8,535.3 L230.8,568.1 L247.3,568.1 L247.3,584.2 L252.4,584.2 L252.4,601.1" fill="none" stroke="#549c32" stroke-width="1.35" stroke-linejoin="miter"/>
<path d="M78,485.7 L126.9,485.7 L126.9,500 L136.6,500 L136.6,514.3 L167.2,514.3 L167.2,543.4 L171.2,543.4 L171.2,557.7 L174.6,557.7 L174.6,571.5 L183.8,571.5 L183.8,586.5 L188,586.5 L188,601.1" fill="none" stroke="#5e97d8" stroke-width="1.35" stroke-linejoin="miter"/>
<line x1="197.2" y1="527.7" x2="218.5" y2="527.7" stroke="#141414" stroke-width="1.4" />
<line x1="197.2" y1="525.2" x2="197.2" y2="530.2" stroke="#141414" stroke-width="1.3" />
<line x1="218.5" y1="525.2" x2="218.5" y2="530.2" stroke="#141414" stroke-width="1.3" />
<line x1="174.6" y1="550.3" x2="193.5" y2="550.3" stroke="#141414" stroke-width="1.4" />
<line x1="174.6" y1="547.8" x2="174.6" y2="552.8" stroke="#141414" stroke-width="1.3" />
<line x1="193.5" y1="547.8" x2="193.5" y2="552.8" stroke="#141414" stroke-width="1.3" />
<polygon points="179.15,542.2 179.71,543.54 181.15,543.65 180.05,544.59 180.38,546 179.15,545.25 177.92,546 178.25,544.59 177.15,543.65 178.59,543.54" fill="#1e1e1e"/>
<polygon points="184.05,542.2 184.61,543.54 186.05,543.65 184.95,544.59 185.28,546 184.05,545.25 182.82,546 183.15,544.59 182.05,543.65 183.49,543.54" fill="#1e1e1e"/>
<polygon points="188.95,542.2 189.51,543.54 190.95,543.65 189.85,544.59 190.18,546 188.95,545.25 187.72,546 188.05,544.59 186.95,543.65 188.39,543.54" fill="#1e1e1e"/>
<line x1="190.3" y1="594.2" x2="250.3" y2="594.2" stroke="#141414" stroke-width="1.4" />
<line x1="190.3" y1="591.7" x2="190.3" y2="596.7" stroke="#141414" stroke-width="1.3" />
<line x1="250.3" y1="591.7" x2="250.3" y2="596.7" stroke="#141414" stroke-width="1.3" />
<polygon points="228.6,586.1 229.16,587.44 230.6,587.55 229.5,588.49 229.83,589.9 228.6,589.15 227.37,589.9 227.7,588.49 226.6,587.55 228.04,587.44" fill="#1e1e1e"/>
<polygon points="233.5,586.1 234.06,587.44 235.5,587.55 234.4,588.49 234.73,589.9 233.5,589.15 232.27,589.9 232.6,588.49 231.5,587.55 232.94,587.44" fill="#1e1e1e"/>
<polygon points="238.4,586.1 238.96,587.44 240.4,587.55 239.3,588.49 239.63,589.9 238.4,589.15 237.17,589.9 237.5,588.49 236.4,587.55 237.84,587.44" fill="#1e1e1e"/>
<line x1="209.2" y1="498.8" x2="213" y2="498.8" stroke="#141414" stroke-width="1.3" />
<line x1="207.8" y1="498.2" x2="207.8" y2="522" stroke="#141414" stroke-width="1.4" />
<path d="M204.9,519.8 L210.7,519.8 L207.8,527.4 Z" fill="#141414"/>
<text x="212.5" y="502.8" font-size="11.2" text-anchor="start" fill="#1e1e1e" textLength="44" lengthAdjust="spacingAndGlyphs" ><tspan font-style="italic">P</tspan> = .0198</text>
<line x1="78" y1="480.7" x2="78" y2="601.8" stroke="#141414" stroke-width="1.6" />
<line x1="77.2" y1="601.1" x2="253" y2="601.1" stroke="#141414" stroke-width="1.6" />
<line x1="73" y1="601.1" x2="78" y2="601.1" stroke="#141414" stroke-width="1.3" />
<line x1="75.4" y1="595.33" x2="78" y2="595.33" stroke="#141414" stroke-width="1.1" />
<line x1="75.4" y1="589.56" x2="78" y2="589.56" stroke="#141414" stroke-width="1.1" />
<line x1="75.4" y1="583.79" x2="78" y2="583.79" stroke="#141414" stroke-width="1.1" />
<line x1="75.4" y1="578.02" x2="78" y2="578.02" stroke="#141414" stroke-width="1.1" />
<line x1="75.4" y1="572.25" x2="78" y2="572.25" stroke="#141414" stroke-width="1.1" />
<line x1="75.4" y1="566.48" x2="78" y2="566.48" stroke="#141414" stroke-width="1.1" />
<line x1="75.4" y1="560.71" x2="78" y2="560.71" stroke="#141414" stroke-width="1.1" />
<line x1="75.4" y1="554.94" x2="78" y2="554.94" stroke="#141414" stroke-width="1.1" />
<line x1="75.4" y1="549.17" x2="78" y2="549.17" stroke="#141414" stroke-width="1.1" />
<line x1="73" y1="543.4" x2="78" y2="543.4" stroke="#141414" stroke-width="1.3" />
<line x1="75.4" y1="537.63" x2="78" y2="537.63" stroke="#141414" stroke-width="1.1" />
<line x1="75.4" y1="531.86" x2="78" y2="531.86" stroke="#141414" stroke-width="1.1" />
<line x1="75.4" y1="526.09" x2="78" y2="526.09" stroke="#141414" stroke-width="1.1" />
<line x1="75.4" y1="520.32" x2="78" y2="520.32" stroke="#141414" stroke-width="1.1" />
<line x1="75.4" y1="514.55" x2="78" y2="514.55" stroke="#141414" stroke-width="1.1" />
<line x1="75.4" y1="508.78" x2="78" y2="508.78" stroke="#141414" stroke-width="1.1" />
<line x1="75.4" y1="503.01" x2="78" y2="503.01" stroke="#141414" stroke-width="1.1" />
<line x1="75.4" y1="497.24" x2="78" y2="497.24" stroke="#141414" stroke-width="1.1" />
<line x1="75.4" y1="491.47" x2="78" y2="491.47" stroke="#141414" stroke-width="1.1" />
<line x1="73" y1="485.7" x2="78" y2="485.7" stroke="#141414" stroke-width="1.3" />
<text x="68" y="489.4" font-size="10.3" text-anchor="end" fill="#1e1e1e" class="m">100</text>
<text x="68" y="547.1" font-size="10.3" text-anchor="end" fill="#1e1e1e" class="m">50</text>
<text x="68" y="604.8" font-size="10.3" text-anchor="end" fill="#1e1e1e" class="m">0</text>
<line x1="78" y1="601.1" x2="78" y2="605.6" stroke="#141414" stroke-width="1.3" />
<text x="78" y="620.1" font-size="10.3" text-anchor="middle" fill="#1e1e1e" class="m">0</text>
<line x1="104.6" y1="601.1" x2="104.6" y2="605.6" stroke="#141414" stroke-width="1.3" />
<text x="104.6" y="620.1" font-size="10.3" text-anchor="middle" fill="#1e1e1e" class="m">50</text>
<line x1="131.2" y1="601.1" x2="131.2" y2="605.6" stroke="#141414" stroke-width="1.3" />
<text x="131.2" y="620.1" font-size="10.3" text-anchor="middle" fill="#1e1e1e" class="m">100</text>
<line x1="157.8" y1="601.1" x2="157.8" y2="605.6" stroke="#141414" stroke-width="1.3" />
<text x="157.8" y="620.1" font-size="10.3" text-anchor="middle" fill="#1e1e1e" class="m">150</text>
<line x1="184.4" y1="601.1" x2="184.4" y2="605.6" stroke="#141414" stroke-width="1.3" />
<text x="184.4" y="620.1" font-size="10.3" text-anchor="middle" fill="#1e1e1e" class="m">200</text>
<line x1="211" y1="601.1" x2="211" y2="605.6" stroke="#141414" stroke-width="1.3" />
<text x="211" y="620.1" font-size="10.3" text-anchor="middle" fill="#1e1e1e" class="m">250</text>
<line x1="237.6" y1="601.1" x2="237.6" y2="605.6" stroke="#141414" stroke-width="1.3" />
<text x="237.6" y="620.1" font-size="10.3" text-anchor="middle" fill="#1e1e1e" class="m">300</text>
<text x="40.8" y="541" font-size="12" text-anchor="middle" fill="#1e1e1e" textLength="104" lengthAdjust="spacingAndGlyphs" transform="rotate(-90 40.8 541)" class="m">Probability of survival</text>
<text x="164.2" y="640" font-size="12.8" text-anchor="middle" fill="#1e1e1e" textLength="112" lengthAdjust="spacingAndGlyphs" class="m">Days post-PDX injection</text>
<rect x="323.8" y="484.8" width="47" height="116" fill="#d7e2f4" />
<polyline points="323.8,555.75 343.76,593.97 357.06,598.07 370.36,599.43 396.97,580.32 423.58,563.94 455.18,546.75 475.13,558.48 496.75,546.47" fill="none" stroke="#549c32" stroke-width="1.1" stroke-linejoin="miter" />
<polyline points="323.8,589.88 343.76,596.7 357.06,599.43 370.36,600.12 396.97,584.42 423.58,566.67 455.18,562.58 475.13,569.81 496.75,549.61" fill="none" stroke="#549c32" stroke-width="1.1" stroke-linejoin="miter" />
<polyline points="323.8,593.97 343.76,595.34 357.06,598.75 370.36,599.71 396.97,587.15 423.58,569.4 455.18,568.04 475.13,580.32 496.75,552.75" fill="none" stroke="#549c32" stroke-width="1.1" stroke-linejoin="miter" />
<polyline points="323.8,596.7 343.76,598.07 357.06,599.43 370.36,600.12 396.97,589.88 423.58,572.13 455.18,573.5 475.13,563.94 496.75,558.08" fill="none" stroke="#549c32" stroke-width="1.1" stroke-linejoin="miter" />
<polyline points="323.8,598.07 343.76,592.61 357.06,598.07 370.36,599.43 396.97,592.61 423.58,584.42 455.18,581.69 475.13,580.32 496.75,548.93" fill="none" stroke="#549c32" stroke-width="1.1" stroke-linejoin="miter" />
<polyline points="323.8,587.15 343.76,596.7 357.06,599.43 370.36,600.12 396.97,583.05 423.58,550.29 455.18,569.4 475.13,558.48 496.75,555.75" fill="none" stroke="#549c32" stroke-width="1.1" stroke-linejoin="miter" />
<polyline points="323.8,595.34 343.76,598.07 357.06,599.43 370.36,600.12 396.97,588.51 423.58,568.04 455.18,557.12 475.13,565.31 496.75,551.66" fill="none" stroke="#549c32" stroke-width="1.1" stroke-linejoin="miter" />
<rect x="322.3" y="554.25" width="3" height="3" fill="#549c32"/>
<rect x="342.26" y="592.47" width="3" height="3" fill="#549c32"/>
<rect x="355.56" y="596.57" width="3" height="3" fill="#549c32"/>
<rect x="368.86" y="597.93" width="3" height="3" fill="#549c32"/>
<rect x="395.47" y="578.82" width="3" height="3" fill="#549c32"/>
<rect x="422.08" y="562.44" width="3" height="3" fill="#549c32"/>
<rect x="453.68" y="545.25" width="3" height="3" fill="#549c32"/>
<rect x="473.63" y="556.98" width="3" height="3" fill="#549c32"/>
<rect x="495.25" y="544.97" width="3" height="3" fill="#549c32"/>
<rect x="322.3" y="588.38" width="3" height="3" fill="#549c32"/>
<rect x="342.26" y="595.2" width="3" height="3" fill="#549c32"/>
<rect x="355.56" y="597.93" width="3" height="3" fill="#549c32"/>
<rect x="368.86" y="598.62" width="3" height="3" fill="#549c32"/>
<rect x="395.47" y="582.92" width="3" height="3" fill="#549c32"/>
<rect x="422.08" y="565.17" width="3" height="3" fill="#549c32"/>
<rect x="453.68" y="561.08" width="3" height="3" fill="#549c32"/>
<rect x="473.63" y="568.31" width="3" height="3" fill="#549c32"/>
<rect x="495.25" y="548.11" width="3" height="3" fill="#549c32"/>
<rect x="322.3" y="592.47" width="3" height="3" fill="#549c32"/>
<rect x="342.26" y="593.84" width="3" height="3" fill="#549c32"/>
<rect x="355.56" y="597.25" width="3" height="3" fill="#549c32"/>
<rect x="368.86" y="598.21" width="3" height="3" fill="#549c32"/>
<rect x="395.47" y="585.65" width="3" height="3" fill="#549c32"/>
<rect x="422.08" y="567.9" width="3" height="3" fill="#549c32"/>
<rect x="453.68" y="566.54" width="3" height="3" fill="#549c32"/>
<rect x="473.63" y="578.82" width="3" height="3" fill="#549c32"/>
<rect x="495.25" y="551.25" width="3" height="3" fill="#549c32"/>
<rect x="322.3" y="595.2" width="3" height="3" fill="#549c32"/>
<rect x="342.26" y="596.57" width="3" height="3" fill="#549c32"/>
<rect x="355.56" y="597.93" width="3" height="3" fill="#549c32"/>
<rect x="368.86" y="598.62" width="3" height="3" fill="#549c32"/>
<rect x="395.47" y="588.38" width="3" height="3" fill="#549c32"/>
<rect x="422.08" y="570.63" width="3" height="3" fill="#549c32"/>
<rect x="453.68" y="572" width="3" height="3" fill="#549c32"/>
<rect x="473.63" y="562.44" width="3" height="3" fill="#549c32"/>
<rect x="495.25" y="556.58" width="3" height="3" fill="#549c32"/>
<rect x="322.3" y="596.57" width="3" height="3" fill="#549c32"/>
<rect x="342.26" y="591.11" width="3" height="3" fill="#549c32"/>
<rect x="355.56" y="596.57" width="3" height="3" fill="#549c32"/>
<rect x="368.86" y="597.93" width="3" height="3" fill="#549c32"/>
<rect x="395.47" y="591.11" width="3" height="3" fill="#549c32"/>
<rect x="422.08" y="582.92" width="3" height="3" fill="#549c32"/>
<rect x="453.68" y="580.19" width="3" height="3" fill="#549c32"/>
<rect x="473.63" y="578.82" width="3" height="3" fill="#549c32"/>
<rect x="495.25" y="547.43" width="3" height="3" fill="#549c32"/>
<rect x="322.3" y="585.65" width="3" height="3" fill="#549c32"/>
<rect x="342.26" y="595.2" width="3" height="3" fill="#549c32"/>
<rect x="355.56" y="597.93" width="3" height="3" fill="#549c32"/>
<rect x="368.86" y="598.62" width="3" height="3" fill="#549c32"/>
<rect x="395.47" y="581.55" width="3" height="3" fill="#549c32"/>
<rect x="422.08" y="548.79" width="3" height="3" fill="#549c32"/>
<rect x="453.68" y="567.9" width="3" height="3" fill="#549c32"/>
<rect x="473.63" y="556.98" width="3" height="3" fill="#549c32"/>
<rect x="495.25" y="554.25" width="3" height="3" fill="#549c32"/>
<rect x="322.3" y="593.84" width="3" height="3" fill="#549c32"/>
<rect x="342.26" y="596.57" width="3" height="3" fill="#549c32"/>
<rect x="355.56" y="597.93" width="3" height="3" fill="#549c32"/>
<rect x="368.86" y="598.62" width="3" height="3" fill="#549c32"/>
<rect x="395.47" y="587.01" width="3" height="3" fill="#549c32"/>
<rect x="422.08" y="566.54" width="3" height="3" fill="#549c32"/>
<rect x="453.68" y="555.62" width="3" height="3" fill="#549c32"/>
<rect x="473.63" y="563.81" width="3" height="3" fill="#549c32"/>
<rect x="495.25" y="550.16" width="3" height="3" fill="#549c32"/>
<polyline points="323.8,573.5 343.76,596.7 357.06,599.43 370.36,599.43 396.97,566.67 423.58,538.01 455.18,553.02 475.13,533.23 496.75,531.59" fill="none" stroke="#272d5c" stroke-width="1.1" stroke-linejoin="miter" />
<polyline points="323.8,584.42 343.76,593.97 357.06,598.07 370.36,598.07 396.97,570.77 423.58,546.2 455.18,532.55 475.13,518.9 496.75,509.48" fill="none" stroke="#272d5c" stroke-width="1.1" stroke-linejoin="miter" />
<polyline points="323.8,589.88 343.76,595.34 357.06,598.07 370.36,598.75 396.97,576.23 423.58,553.02 455.18,524.36 475.13,539.38 496.75,534.87" fill="none" stroke="#272d5c" stroke-width="1.1" stroke-linejoin="miter" />
<polyline points="323.8,593.97 343.76,598.07 357.06,598.75 370.36,599.43 396.97,562.58 423.58,559.85 455.18,566.67 475.13,548.93 496.75,546.2" fill="none" stroke="#272d5c" stroke-width="1.1" stroke-linejoin="miter" />
<polyline points="323.8,596.7 343.76,598.75 357.06,599.43 370.36,599.43 396.97,581.69 423.58,543.47 455.18,536.64 475.13,528.45 496.75,532.55" fill="none" stroke="#272d5c" stroke-width="1.1" stroke-linejoin="miter" />
<polyline points="323.8,580.32 343.76,592.61 357.06,597.39 370.36,598.07 396.97,573.5 423.58,565.31 455.18,529.82 475.13,521.63 496.75,507.98" fill="none" stroke="#272d5c" stroke-width="1.1" stroke-linejoin="miter" />
<path d="M323.8,571.42 L321.88,574.94 L325.72,574.94 Z" fill="#272d5c"/>
<path d="M343.76,594.62 L341.84,598.14 L345.68,598.14 Z" fill="#272d5c"/>
<path d="M357.06,597.35 L355.14,600.88 L358.98,600.88 Z" fill="#272d5c"/>
<path d="M370.36,597.35 L368.44,600.88 L372.28,600.88 Z" fill="#272d5c"/>
<path d="M396.97,564.59 L395.05,568.12 L398.89,568.12 Z" fill="#272d5c"/>
<path d="M423.58,535.93 L421.66,539.45 L425.5,539.45 Z" fill="#272d5c"/>
<path d="M455.18,550.94 L453.26,554.47 L457.1,554.47 Z" fill="#272d5c"/>
<path d="M475.13,531.15 L473.21,534.67 L477.05,534.67 Z" fill="#272d5c"/>
<path d="M496.75,529.51 L494.83,533.03 L498.67,533.03 Z" fill="#272d5c"/>
<path d="M323.8,582.34 L321.88,585.86 L325.72,585.86 Z" fill="#272d5c"/>
<path d="M343.76,591.89 L341.84,595.41 L345.68,595.41 Z" fill="#272d5c"/>
<path d="M357.06,595.99 L355.14,599.51 L358.98,599.51 Z" fill="#272d5c"/>
<path d="M370.36,595.99 L368.44,599.51 L372.28,599.51 Z" fill="#272d5c"/>
<path d="M396.97,568.69 L395.05,572.21 L398.89,572.21 Z" fill="#272d5c"/>
<path d="M423.58,544.12 L421.66,547.64 L425.5,547.64 Z" fill="#272d5c"/>
<path d="M455.18,530.47 L453.26,533.99 L457.1,533.99 Z" fill="#272d5c"/>
<path d="M475.13,516.82 L473.21,520.34 L477.05,520.34 Z" fill="#272d5c"/>
<path d="M496.75,507.4 L494.83,510.92 L498.67,510.92 Z" fill="#272d5c"/>
<path d="M323.8,587.8 L321.88,591.32 L325.72,591.32 Z" fill="#272d5c"/>
<path d="M343.76,593.26 L341.84,596.78 L345.68,596.78 Z" fill="#272d5c"/>
<path d="M357.06,595.99 L355.14,599.51 L358.98,599.51 Z" fill="#272d5c"/>
<path d="M370.36,596.67 L368.44,600.19 L372.28,600.19 Z" fill="#272d5c"/>
<path d="M396.97,574.15 L395.05,577.67 L398.89,577.67 Z" fill="#272d5c"/>
<path d="M423.58,550.94 L421.66,554.47 L425.5,554.47 Z" fill="#272d5c"/>
<path d="M455.18,522.28 L453.26,525.8 L457.1,525.8 Z" fill="#272d5c"/>
<path d="M475.13,537.29 L473.21,540.82 L477.05,540.82 Z" fill="#272d5c"/>
<path d="M496.75,532.79 L494.83,536.31 L498.67,536.31 Z" fill="#272d5c"/>
<path d="M323.8,591.89 L321.88,595.41 L325.72,595.41 Z" fill="#272d5c"/>
<path d="M343.76,595.99 L341.84,599.51 L345.68,599.51 Z" fill="#272d5c"/>
<path d="M357.06,596.67 L355.14,600.19 L358.98,600.19 Z" fill="#272d5c"/>
<path d="M370.36,597.35 L368.44,600.88 L372.28,600.88 Z" fill="#272d5c"/>
<path d="M396.97,560.5 L395.05,564.02 L398.89,564.02 Z" fill="#272d5c"/>
<path d="M423.58,557.77 L421.66,561.29 L425.5,561.29 Z" fill="#272d5c"/>
<path d="M455.18,564.59 L453.26,568.12 L457.1,568.12 Z" fill="#272d5c"/>
<path d="M475.13,546.85 L473.21,550.37 L477.05,550.37 Z" fill="#272d5c"/>
<path d="M496.75,544.12 L494.83,547.64 L498.67,547.64 Z" fill="#272d5c"/>
<path d="M323.8,594.62 L321.88,598.14 L325.72,598.14 Z" fill="#272d5c"/>
<path d="M343.76,596.67 L341.84,600.19 L345.68,600.19 Z" fill="#272d5c"/>
<path d="M357.06,597.35 L355.14,600.88 L358.98,600.88 Z" fill="#272d5c"/>
<path d="M370.36,597.35 L368.44,600.88 L372.28,600.88 Z" fill="#272d5c"/>
<path d="M396.97,579.61 L395.05,583.13 L398.89,583.13 Z" fill="#272d5c"/>
<path d="M423.58,541.39 L421.66,544.91 L425.5,544.91 Z" fill="#272d5c"/>
<path d="M455.18,534.56 L453.26,538.09 L457.1,538.09 Z" fill="#272d5c"/>
<path d="M475.13,526.37 L473.21,529.89 L477.05,529.89 Z" fill="#272d5c"/>
<path d="M496.75,530.47 L494.83,533.99 L498.67,533.99 Z" fill="#272d5c"/>
<path d="M323.8,578.24 L321.88,581.76 L325.72,581.76 Z" fill="#272d5c"/>
<path d="M343.76,590.53 L341.84,594.05 L345.68,594.05 Z" fill="#272d5c"/>
<path d="M357.06,595.31 L355.14,598.83 L358.98,598.83 Z" fill="#272d5c"/>
<path d="M370.36,595.99 L368.44,599.51 L372.28,599.51 Z" fill="#272d5c"/>
<path d="M396.97,571.42 L395.05,574.94 L398.89,574.94 Z" fill="#272d5c"/>
<path d="M423.58,563.23 L421.66,566.75 L425.5,566.75 Z" fill="#272d5c"/>
<path d="M455.18,527.74 L453.26,531.26 L457.1,531.26 Z" fill="#272d5c"/>
<path d="M475.13,519.55 L473.21,523.07 L477.05,523.07 Z" fill="#272d5c"/>
<path d="M496.75,505.9 L494.83,509.42 L498.67,509.42 Z" fill="#272d5c"/>
<polyline points="323.8,580.32 343.76,544.83 357.06,561.21 370.36,531.18 396.97,543.47 423.58,528.45 455.18,515.49 475.13,548.93 496.75,485.32" fill="none" stroke="#5e97d8" stroke-width="1.1" stroke-linejoin="miter" />
<polyline points="323.8,587.15 343.76,551.66 357.06,527.09 370.36,529.82 396.97,528.45" fill="none" stroke="#5e97d8" stroke-width="1.1" stroke-linejoin="miter" />
<polyline points="323.8,584.42 343.76,559.85 357.06,573.5 370.36,542.1 396.97,546.2 423.58,535.28 455.18,518.9 475.13,505.25 496.75,493.78" fill="none" stroke="#5e97d8" stroke-width="1.1" stroke-linejoin="miter" />
<polyline points="323.8,589.88 343.76,566.67 357.06,577.59 370.36,543.47 396.97,548.93 423.58,538.01 455.18,521.63 475.13,534.32 496.75,490.64" fill="none" stroke="#5e97d8" stroke-width="1.1" stroke-linejoin="miter" />
<polyline points="323.8,593.97 343.76,570.77 357.06,585.78 370.36,547.56 396.97,555.75 423.58,532.55 455.18,525.72 475.13,542.1 496.75,505.25" fill="none" stroke="#5e97d8" stroke-width="1.1" stroke-linejoin="miter" />
<polyline points="323.8,596.7 343.76,574.87 357.06,576.23 370.36,550.29 396.97,558.48 423.58,540.74 455.18,523 475.13,546.2 496.75,517.94" fill="none" stroke="#5e97d8" stroke-width="1.1" stroke-linejoin="miter" />
<polyline points="323.8,598.07 343.76,583.05 357.06,580.32 370.36,540.74 396.97,544.83 423.58,529.82 455.18,516.17 475.13,532.55 496.75,512.07" fill="none" stroke="#5e97d8" stroke-width="1.1" stroke-linejoin="miter" />
<polyline points="323.8,592.61 343.76,591.25 357.06,561.21 370.36,532.55 396.97,547.56 423.58,536.64 455.18,527.09 475.13,517.53 496.75,495.69" fill="none" stroke="#5e97d8" stroke-width="1.1" stroke-linejoin="miter" />
<circle cx="323.8" cy="580.32" r="1.6" fill="#5e97d8"/>
<circle cx="343.76" cy="544.83" r="1.6" fill="#5e97d8"/>
<circle cx="357.06" cy="561.21" r="1.6" fill="#5e97d8"/>
<circle cx="370.36" cy="531.18" r="1.6" fill="#5e97d8"/>
<circle cx="396.97" cy="543.47" r="1.6" fill="#5e97d8"/>
<circle cx="423.58" cy="528.45" r="1.6" fill="#5e97d8"/>
<circle cx="455.18" cy="515.49" r="1.6" fill="#5e97d8"/>
<circle cx="475.13" cy="548.93" r="1.6" fill="#5e97d8"/>
<circle cx="496.75" cy="485.32" r="1.6" fill="#5e97d8"/>
<circle cx="323.8" cy="587.15" r="1.6" fill="#5e97d8"/>
<circle cx="343.76" cy="551.66" r="1.6" fill="#5e97d8"/>
<circle cx="357.06" cy="527.09" r="1.6" fill="#5e97d8"/>
<circle cx="370.36" cy="529.82" r="1.6" fill="#5e97d8"/>
<circle cx="396.97" cy="528.45" r="1.6" fill="#5e97d8"/>
<circle cx="323.8" cy="584.42" r="1.6" fill="#5e97d8"/>
<circle cx="343.76" cy="559.85" r="1.6" fill="#5e97d8"/>
<circle cx="357.06" cy="573.5" r="1.6" fill="#5e97d8"/>
<circle cx="370.36" cy="542.1" r="1.6" fill="#5e97d8"/>
<circle cx="396.97" cy="546.2" r="1.6" fill="#5e97d8"/>
<circle cx="423.58" cy="535.28" r="1.6" fill="#5e97d8"/>
<circle cx="455.18" cy="518.9" r="1.6" fill="#5e97d8"/>
<circle cx="475.13" cy="505.25" r="1.6" fill="#5e97d8"/>
<circle cx="496.75" cy="493.78" r="1.6" fill="#5e97d8"/>
<circle cx="323.8" cy="589.88" r="1.6" fill="#5e97d8"/>
<circle cx="343.76" cy="566.67" r="1.6" fill="#5e97d8"/>
<circle cx="357.06" cy="577.59" r="1.6" fill="#5e97d8"/>
<circle cx="370.36" cy="543.47" r="1.6" fill="#5e97d8"/>
<circle cx="396.97" cy="548.93" r="1.6" fill="#5e97d8"/>
<circle cx="423.58" cy="538.01" r="1.6" fill="#5e97d8"/>
<circle cx="455.18" cy="521.63" r="1.6" fill="#5e97d8"/>
<circle cx="475.13" cy="534.32" r="1.6" fill="#5e97d8"/>
<circle cx="496.75" cy="490.64" r="1.6" fill="#5e97d8"/>
<circle cx="323.8" cy="593.97" r="1.6" fill="#5e97d8"/>
<circle cx="343.76" cy="570.77" r="1.6" fill="#5e97d8"/>
<circle cx="357.06" cy="585.78" r="1.6" fill="#5e97d8"/>
<circle cx="370.36" cy="547.56" r="1.6" fill="#5e97d8"/>
<circle cx="396.97" cy="555.75" r="1.6" fill="#5e97d8"/>
<circle cx="423.58" cy="532.55" r="1.6" fill="#5e97d8"/>
<circle cx="455.18" cy="525.72" r="1.6" fill="#5e97d8"/>
<circle cx="475.13" cy="542.1" r="1.6" fill="#5e97d8"/>
<circle cx="496.75" cy="505.25" r="1.6" fill="#5e97d8"/>
<circle cx="323.8" cy="596.7" r="1.6" fill="#5e97d8"/>
<circle cx="343.76" cy="574.87" r="1.6" fill="#5e97d8"/>
<circle cx="357.06" cy="576.23" r="1.6" fill="#5e97d8"/>
<circle cx="370.36" cy="550.29" r="1.6" fill="#5e97d8"/>
<circle cx="396.97" cy="558.48" r="1.6" fill="#5e97d8"/>
<circle cx="423.58" cy="540.74" r="1.6" fill="#5e97d8"/>
<circle cx="455.18" cy="523" r="1.6" fill="#5e97d8"/>
<circle cx="475.13" cy="546.2" r="1.6" fill="#5e97d8"/>
<circle cx="496.75" cy="517.94" r="1.6" fill="#5e97d8"/>
<circle cx="323.8" cy="598.07" r="1.6" fill="#5e97d8"/>
<circle cx="343.76" cy="583.05" r="1.6" fill="#5e97d8"/>
<circle cx="357.06" cy="580.32" r="1.6" fill="#5e97d8"/>
<circle cx="370.36" cy="540.74" r="1.6" fill="#5e97d8"/>
<circle cx="396.97" cy="544.83" r="1.6" fill="#5e97d8"/>
<circle cx="423.58" cy="529.82" r="1.6" fill="#5e97d8"/>
<circle cx="455.18" cy="516.17" r="1.6" fill="#5e97d8"/>
<circle cx="475.13" cy="532.55" r="1.6" fill="#5e97d8"/>
<circle cx="496.75" cy="512.07" r="1.6" fill="#5e97d8"/>
<circle cx="323.8" cy="592.61" r="1.6" fill="#5e97d8"/>
<circle cx="343.76" cy="591.25" r="1.6" fill="#5e97d8"/>
<circle cx="357.06" cy="561.21" r="1.6" fill="#5e97d8"/>
<circle cx="370.36" cy="532.55" r="1.6" fill="#5e97d8"/>
<circle cx="396.97" cy="547.56" r="1.6" fill="#5e97d8"/>
<circle cx="423.58" cy="536.64" r="1.6" fill="#5e97d8"/>
<circle cx="455.18" cy="527.09" r="1.6" fill="#5e97d8"/>
<circle cx="475.13" cy="517.53" r="1.6" fill="#5e97d8"/>
<circle cx="496.75" cy="495.69" r="1.6" fill="#5e97d8"/>
<line x1="323.8" y1="484.8" x2="323.8" y2="601.5" stroke="#141414" stroke-width="1.6" />
<line x1="323" y1="600.8" x2="498.4" y2="600.8" stroke="#141414" stroke-width="1.6" />
<line x1="319.3" y1="600.8" x2="323.8" y2="600.8" stroke="#141414" stroke-width="1.3" />
<text x="313.8" y="604.5" font-size="10.3" text-anchor="end" fill="#1e1e1e" class="m">0</text>
<line x1="319.3" y1="573.5" x2="323.8" y2="573.5" stroke="#141414" stroke-width="1.3" />
<text x="313.8" y="577.2" font-size="10.3" text-anchor="end" fill="#1e1e1e" class="m">20</text>
<line x1="319.3" y1="546.2" x2="323.8" y2="546.2" stroke="#141414" stroke-width="1.3" />
<text x="313.8" y="549.9" font-size="10.3" text-anchor="end" fill="#1e1e1e" class="m">40</text>
<line x1="319.3" y1="518.9" x2="323.8" y2="518.9" stroke="#141414" stroke-width="1.3" />
<text x="313.8" y="522.6" font-size="10.3" text-anchor="end" fill="#1e1e1e" class="m">60</text>
<line x1="319.3" y1="491.6" x2="323.8" y2="491.6" stroke="#141414" stroke-width="1.3" />
<text x="313.8" y="495.3" font-size="10.3" text-anchor="end" fill="#1e1e1e" class="m">80</text>
<line x1="323.8" y1="600.8" x2="323.8" y2="605.3" stroke="#141414" stroke-width="1.3" />
<text x="323.8" y="619.8" font-size="10.3" text-anchor="middle" fill="#1e1e1e" class="m">0</text>
<line x1="357.06" y1="600.8" x2="357.06" y2="605.3" stroke="#141414" stroke-width="1.3" />
<text x="357.06" y="619.8" font-size="10.3" text-anchor="middle" fill="#1e1e1e" class="m">20</text>
<line x1="390.32" y1="600.8" x2="390.32" y2="605.3" stroke="#141414" stroke-width="1.3" />
<text x="390.32" y="619.8" font-size="10.3" text-anchor="middle" fill="#1e1e1e" class="m">40</text>
<line x1="423.58" y1="600.8" x2="423.58" y2="605.3" stroke="#141414" stroke-width="1.3" />
<text x="423.58" y="619.8" font-size="10.3" text-anchor="middle" fill="#1e1e1e" class="m">60</text>
<line x1="456.84" y1="600.8" x2="456.84" y2="605.3" stroke="#141414" stroke-width="1.3" />
<text x="456.84" y="619.8" font-size="10.3" text-anchor="middle" fill="#1e1e1e" class="m">80</text>
<line x1="490.1" y1="600.8" x2="490.1" y2="605.3" stroke="#141414" stroke-width="1.3" />
<text x="490.1" y="619.8" font-size="10.3" text-anchor="middle" fill="#1e1e1e" class="m">100</text>
<line x1="340.43" y1="600.8" x2="340.43" y2="605.3" stroke="#141414" stroke-width="1.3" />
<line x1="373.69" y1="600.8" x2="373.69" y2="605.3" stroke="#141414" stroke-width="1.3" />
<line x1="406.95" y1="600.8" x2="406.95" y2="605.3" stroke="#141414" stroke-width="1.3" />
<line x1="440.21" y1="600.8" x2="440.21" y2="605.3" stroke="#141414" stroke-width="1.3" />
<line x1="473.47" y1="600.8" x2="473.47" y2="605.3" stroke="#141414" stroke-width="1.3" />
<text x="287.5" y="543.7" font-size="12" text-anchor="middle" fill="#1e1e1e" textLength="83" lengthAdjust="spacingAndGlyphs" transform="rotate(-90 287.5 543.7)" class="m">%Human CD45+</text>
<text x="411.3" y="639.9" font-size="12.8" text-anchor="middle" fill="#1e1e1e" textLength="143" lengthAdjust="spacingAndGlyphs" class="m">Days post-treatment initiation</text>
<text x="12.6" y="673.7" font-size="18" text-anchor="start" fill="#000" font-weight="bold" textLength="14.2" lengthAdjust="spacingAndGlyphs" stroke="#000" stroke-width="0.5">D</text>
<text x="218" y="670" font-size="14" text-anchor="start" fill="#1e1e1e" textLength="141.6" lengthAdjust="spacingAndGlyphs" >DFAM-16835 (<tspan font-style="italic">NPM1c</tspan>)</text>
<text x="145" y="687.8" font-size="11.8" text-anchor="start" fill="#1e1e1e" textLength="41.5" lengthAdjust="spacingAndGlyphs" >Survival</text>
<text x="317.3" y="687.8" font-size="11.8" text-anchor="start" fill="#1e1e1e" textLength="190.6" lengthAdjust="spacingAndGlyphs" >Peripheral Blood Leukemia Burden</text>
<rect x="113.8" y="702" width="55.1" height="114.9" fill="#d7e2f4" />
<line x1="113.5" y1="702" x2="113.5" y2="816.9" stroke="#141414" stroke-width="1" stroke-dasharray="1 1"/>
<line x1="169.5" y1="702" x2="169.5" y2="816.9" stroke="#141414" stroke-width="1" stroke-dasharray="1 1"/>
<text x="109.1" y="811.9" font-size="11.2" text-anchor="start" fill="#1e1e1e" textLength="82.2" lengthAdjust="spacingAndGlyphs" transform="rotate(-90 109.1 811.9)" class="m">50-day Treatment</text>
<path d="M78,702 L141.2,702 L141.2,751.9 L142.4,751.9 L142.4,768 L147.7,768 L147.7,800.8 L158.8,800.8 L158.8,816.9" fill="none" stroke="#5e97d8" stroke-width="1.35" stroke-linejoin="miter"/>
<path d="M141.2,702 L218.5,702 L218.5,730.8 L223.1,730.8 L223.1,745.2 L227.7,745.2 L227.7,759.5 L232.3,759.5 L232.3,788.2 L243.2,788.2 L243.2,802.6 L251.9,802.6 L251.9,816.9" fill="none" stroke="#549c32" stroke-width="1.35" stroke-linejoin="miter"/>
<line x1="150.2" y1="780.7" x2="229.5" y2="780.7" stroke="#141414" stroke-width="1.4" />
<line x1="150.2" y1="778.2" x2="150.2" y2="783.2" stroke="#141414" stroke-width="1.3" />
<line x1="229.5" y1="778.2" x2="229.5" y2="783.2" stroke="#141414" stroke-width="1.3" />
<polygon points="182.5,770.9 183.06,772.24 184.5,772.35 183.4,773.29 183.73,774.7 182.5,773.95 181.27,774.7 181.6,773.29 180.5,772.35 181.94,772.24" fill="#1e1e1e"/>
<polygon points="187.4,770.9 187.96,772.24 189.4,772.35 188.3,773.29 188.63,774.7 187.4,773.95 186.17,774.7 186.5,773.29 185.4,772.35 186.84,772.24" fill="#1e1e1e"/>
<polygon points="192.3,770.9 192.86,772.24 194.3,772.35 193.2,773.29 193.53,774.7 192.3,773.95 191.07,774.7 191.4,773.29 190.3,772.35 191.74,772.24" fill="#1e1e1e"/>
<polygon points="197.2,770.9 197.76,772.24 199.2,772.35 198.1,773.29 198.43,774.7 197.2,773.95 195.97,774.7 196.3,773.29 195.2,772.35 196.64,772.24" fill="#1e1e1e"/>
<line x1="78" y1="697" x2="78" y2="817.6" stroke="#141414" stroke-width="1.6" />
<line x1="77.2" y1="816.9" x2="253" y2="816.9" stroke="#141414" stroke-width="1.6" />
<line x1="73" y1="816.9" x2="78" y2="816.9" stroke="#141414" stroke-width="1.3" />
<line x1="75.4" y1="811.15" x2="78" y2="811.15" stroke="#141414" stroke-width="1.1" />
<line x1="75.4" y1="805.41" x2="78" y2="805.41" stroke="#141414" stroke-width="1.1" />
<line x1="75.4" y1="799.66" x2="78" y2="799.66" stroke="#141414" stroke-width="1.1" />
<line x1="75.4" y1="793.92" x2="78" y2="793.92" stroke="#141414" stroke-width="1.1" />
<line x1="75.4" y1="788.17" x2="78" y2="788.17" stroke="#141414" stroke-width="1.1" />
<line x1="75.4" y1="782.43" x2="78" y2="782.43" stroke="#141414" stroke-width="1.1" />
<line x1="75.4" y1="776.68" x2="78" y2="776.68" stroke="#141414" stroke-width="1.1" />
<line x1="75.4" y1="770.94" x2="78" y2="770.94" stroke="#141414" stroke-width="1.1" />
<line x1="75.4" y1="765.19" x2="78" y2="765.19" stroke="#141414" stroke-width="1.1" />
<line x1="73" y1="759.45" x2="78" y2="759.45" stroke="#141414" stroke-width="1.3" />
<line x1="75.4" y1="753.7" x2="78" y2="753.7" stroke="#141414" stroke-width="1.1" />
<line x1="75.4" y1="747.96" x2="78" y2="747.96" stroke="#141414" stroke-width="1.1" />
<line x1="75.4" y1="742.22" x2="78" y2="742.22" stroke="#141414" stroke-width="1.1" />
<line x1="75.4" y1="736.47" x2="78" y2="736.47" stroke="#141414" stroke-width="1.1" />
<line x1="75.4" y1="730.73" x2="78" y2="730.73" stroke="#141414" stroke-width="1.1" />
<line x1="75.4" y1="724.98" x2="78" y2="724.98" stroke="#141414" stroke-width="1.1" />
<line x1="75.4" y1="719.24" x2="78" y2="719.24" stroke="#141414" stroke-width="1.1" />
<line x1="75.4" y1="713.49" x2="78" y2="713.49" stroke="#141414" stroke-width="1.1" />
<line x1="75.4" y1="707.75" x2="78" y2="707.75" stroke="#141414" stroke-width="1.1" />
<line x1="73" y1="702" x2="78" y2="702" stroke="#141414" stroke-width="1.3" />
<text x="68" y="705.7" font-size="10.3" text-anchor="end" fill="#1e1e1e" class="m">100</text>
<text x="68" y="763.15" font-size="10.3" text-anchor="end" fill="#1e1e1e" class="m">50</text>
<text x="68" y="820.6" font-size="10.3" text-anchor="end" fill="#1e1e1e" class="m">0</text>
<line x1="78" y1="816.9" x2="78" y2="821.4" stroke="#141414" stroke-width="1.3" />
<text x="78" y="835.9" font-size="10.3" text-anchor="middle" fill="#1e1e1e" class="m">0</text>
<line x1="134.3" y1="816.9" x2="134.3" y2="821.4" stroke="#141414" stroke-width="1.3" />
<text x="134.3" y="835.9" font-size="10.3" text-anchor="middle" fill="#1e1e1e" class="m">50</text>
<line x1="190.6" y1="816.9" x2="190.6" y2="821.4" stroke="#141414" stroke-width="1.3" />
<text x="190.6" y="835.9" font-size="10.3" text-anchor="middle" fill="#1e1e1e" class="m">100</text>
<line x1="246.9" y1="816.9" x2="246.9" y2="821.4" stroke="#141414" stroke-width="1.3" />
<text x="246.9" y="835.9" font-size="10.3" text-anchor="middle" fill="#1e1e1e" class="m">150</text>
<text x="40.8" y="757" font-size="12" text-anchor="middle" fill="#1e1e1e" textLength="104" lengthAdjust="spacingAndGlyphs" transform="rotate(-90 40.8 757)" class="m">Probability of survival</text>
<text x="165" y="856.3" font-size="12.8" text-anchor="middle" fill="#1e1e1e" textLength="114.6" lengthAdjust="spacingAndGlyphs" class="m">Days post-PDX injection</text>
<rect x="323.8" y="701.2" width="71.8" height="115.7" fill="#d7e2f4" />
<polyline points="323.8,813.42 341.09,793.72 358.38,798.36 378.56,798.36 395.85,802.99 414.58,794.88 437.64,783.29 457.81,746.2 475.11,713.17" fill="none" stroke="#549c32" stroke-width="1.2" stroke-linejoin="miter" />
<polyline points="323.8,812.26 341.09,794.88 358.38,807.63 378.56,800.67 395.85,797.2 414.58,802.18 437.64,786.42 457.81,765.32 490.96,706.79" fill="none" stroke="#549c32" stroke-width="1.2" stroke-linejoin="miter" />
<polyline points="323.8,814.58 341.09,801.83 358.38,809.95 378.56,802.99 395.85,805.31 414.58,805.31 437.64,793.72 457.81,767.41 475.11,734.61" fill="none" stroke="#549c32" stroke-width="1.2" stroke-linejoin="miter" />
<polyline points="323.8,813.42 341.09,805.31 358.38,811.11 378.56,805.31 395.85,807.63 414.58,808.56 437.64,800.09 457.81,776.8 470.78,740.52" fill="none" stroke="#549c32" stroke-width="1.2" stroke-linejoin="miter" />
<polyline points="323.8,814.58 341.09,811.11 358.38,809.95 378.56,807.63 395.85,802.99 414.58,813.77 437.64,806.47 457.81,789.55 475.11,776.8 496.72,723.02" fill="none" stroke="#549c32" stroke-width="1.2" stroke-linejoin="miter" />
<polyline points="323.8,815.74 341.09,813.42 358.38,807.63 378.56,811.11 395.85,812.26 414.58,805.31 437.64,789.08 457.81,770.54 475.11,741.1" fill="none" stroke="#549c32" stroke-width="1.2" stroke-linejoin="miter" />
<polyline points="323.8,813.42 341.09,802.99 358.38,800.67 378.56,799.51 395.85,806.47 414.58,811.11 437.64,797.2 457.81,752.69" fill="none" stroke="#549c32" stroke-width="1.2" stroke-linejoin="miter" />
<rect x="322.1" y="811.72" width="3.4" height="3.4" fill="#549c32"/>
<rect x="339.39" y="792.02" width="3.4" height="3.4" fill="#549c32"/>
<rect x="356.68" y="796.66" width="3.4" height="3.4" fill="#549c32"/>
<rect x="376.86" y="796.66" width="3.4" height="3.4" fill="#549c32"/>
<rect x="394.15" y="801.29" width="3.4" height="3.4" fill="#549c32"/>
<rect x="412.88" y="793.18" width="3.4" height="3.4" fill="#549c32"/>
<rect x="435.94" y="781.59" width="3.4" height="3.4" fill="#549c32"/>
<rect x="456.11" y="744.5" width="3.4" height="3.4" fill="#549c32"/>
<rect x="473.41" y="711.47" width="3.4" height="3.4" fill="#549c32"/>
<rect x="322.1" y="810.56" width="3.4" height="3.4" fill="#549c32"/>
<rect x="339.39" y="793.18" width="3.4" height="3.4" fill="#549c32"/>
<rect x="356.68" y="805.93" width="3.4" height="3.4" fill="#549c32"/>
<rect x="376.86" y="798.97" width="3.4" height="3.4" fill="#549c32"/>
<rect x="394.15" y="795.5" width="3.4" height="3.4" fill="#549c32"/>
<rect x="412.88" y="800.48" width="3.4" height="3.4" fill="#549c32"/>
<rect x="435.94" y="784.72" width="3.4" height="3.4" fill="#549c32"/>
<rect x="456.11" y="763.62" width="3.4" height="3.4" fill="#549c32"/>
<rect x="489.26" y="705.09" width="3.4" height="3.4" fill="#549c32"/>
<rect x="322.1" y="812.88" width="3.4" height="3.4" fill="#549c32"/>
<rect x="339.39" y="800.13" width="3.4" height="3.4" fill="#549c32"/>
<rect x="356.68" y="808.25" width="3.4" height="3.4" fill="#549c32"/>
<rect x="376.86" y="801.29" width="3.4" height="3.4" fill="#549c32"/>
<rect x="394.15" y="803.61" width="3.4" height="3.4" fill="#549c32"/>
<rect x="412.88" y="803.61" width="3.4" height="3.4" fill="#549c32"/>
<rect x="435.94" y="792.02" width="3.4" height="3.4" fill="#549c32"/>
<rect x="456.11" y="765.71" width="3.4" height="3.4" fill="#549c32"/>
<rect x="473.41" y="732.91" width="3.4" height="3.4" fill="#549c32"/>
<rect x="322.1" y="811.72" width="3.4" height="3.4" fill="#549c32"/>
<rect x="339.39" y="803.61" width="3.4" height="3.4" fill="#549c32"/>
<rect x="356.68" y="809.4" width="3.4" height="3.4" fill="#549c32"/>
<rect x="376.86" y="803.61" width="3.4" height="3.4" fill="#549c32"/>
<rect x="394.15" y="805.93" width="3.4" height="3.4" fill="#549c32"/>
<rect x="412.88" y="806.86" width="3.4" height="3.4" fill="#549c32"/>
<rect x="435.94" y="798.39" width="3.4" height="3.4" fill="#549c32"/>
<rect x="456.11" y="775.1" width="3.4" height="3.4" fill="#549c32"/>
<rect x="469.08" y="738.82" width="3.4" height="3.4" fill="#549c32"/>
<rect x="322.1" y="812.88" width="3.4" height="3.4" fill="#549c32"/>
<rect x="339.39" y="809.4" width="3.4" height="3.4" fill="#549c32"/>
<rect x="356.68" y="808.25" width="3.4" height="3.4" fill="#549c32"/>
<rect x="376.86" y="805.93" width="3.4" height="3.4" fill="#549c32"/>
<rect x="394.15" y="801.29" width="3.4" height="3.4" fill="#549c32"/>
<rect x="412.88" y="812.07" width="3.4" height="3.4" fill="#549c32"/>
<rect x="435.94" y="804.77" width="3.4" height="3.4" fill="#549c32"/>
<rect x="456.11" y="787.85" width="3.4" height="3.4" fill="#549c32"/>
<rect x="473.41" y="775.1" width="3.4" height="3.4" fill="#549c32"/>
<rect x="495.02" y="721.32" width="3.4" height="3.4" fill="#549c32"/>
<rect x="322.1" y="814.04" width="3.4" height="3.4" fill="#549c32"/>
<rect x="339.39" y="811.72" width="3.4" height="3.4" fill="#549c32"/>
<rect x="356.68" y="805.93" width="3.4" height="3.4" fill="#549c32"/>
<rect x="376.86" y="809.4" width="3.4" height="3.4" fill="#549c32"/>
<rect x="394.15" y="810.56" width="3.4" height="3.4" fill="#549c32"/>
<rect x="412.88" y="803.61" width="3.4" height="3.4" fill="#549c32"/>
<rect x="435.94" y="787.38" width="3.4" height="3.4" fill="#549c32"/>
<rect x="456.11" y="768.84" width="3.4" height="3.4" fill="#549c32"/>
<rect x="473.41" y="739.4" width="3.4" height="3.4" fill="#549c32"/>
<rect x="322.1" y="811.72" width="3.4" height="3.4" fill="#549c32"/>
<rect x="339.39" y="801.29" width="3.4" height="3.4" fill="#549c32"/>
<rect x="356.68" y="798.97" width="3.4" height="3.4" fill="#549c32"/>
<rect x="376.86" y="797.81" width="3.4" height="3.4" fill="#549c32"/>
<rect x="394.15" y="804.77" width="3.4" height="3.4" fill="#549c32"/>
<rect x="412.88" y="809.4" width="3.4" height="3.4" fill="#549c32"/>
<rect x="435.94" y="795.5" width="3.4" height="3.4" fill="#549c32"/>
<rect x="456.11" y="750.99" width="3.4" height="3.4" fill="#549c32"/>
<polyline points="323.8,814.58 341.09,771.7 358.38,764.75 364.15,749.68" fill="none" stroke="#5e97d8" stroke-width="1.2" stroke-linejoin="miter" />
<polyline points="323.8,813.42 341.09,776.34 358.38,736.93" fill="none" stroke="#5e97d8" stroke-width="1.2" stroke-linejoin="miter" />
<polyline points="323.8,814.58 341.09,784.45 358.38,752" fill="none" stroke="#5e97d8" stroke-width="1.2" stroke-linejoin="miter" />
<polyline points="323.8,815.74 341.09,786.77 364.15,740.41" fill="none" stroke="#5e97d8" stroke-width="1.2" stroke-linejoin="miter" />
<polyline points="323.8,814.58 341.09,805.31 358.38,761.27" fill="none" stroke="#5e97d8" stroke-width="1.2" stroke-linejoin="miter" />
<polyline points="323.8,815.74 341.09,800.67 358.38,799.51 381.44,732.29" fill="none" stroke="#5e97d8" stroke-width="1.2" stroke-linejoin="miter" />
<circle cx="323.8" cy="814.58" r="1.6" fill="#5e97d8"/>
<circle cx="341.09" cy="771.7" r="1.6" fill="#5e97d8"/>
<circle cx="358.38" cy="764.75" r="1.6" fill="#5e97d8"/>
<circle cx="364.15" cy="749.68" r="1.6" fill="#5e97d8"/>
<circle cx="323.8" cy="813.42" r="1.6" fill="#5e97d8"/>
<circle cx="341.09" cy="776.34" r="1.6" fill="#5e97d8"/>
<circle cx="358.38" cy="736.93" r="1.6" fill="#5e97d8"/>
<circle cx="323.8" cy="814.58" r="1.6" fill="#5e97d8"/>
<circle cx="341.09" cy="784.45" r="1.6" fill="#5e97d8"/>
<circle cx="358.38" cy="752" r="1.6" fill="#5e97d8"/>
<circle cx="323.8" cy="815.74" r="1.6" fill="#5e97d8"/>
<circle cx="341.09" cy="786.77" r="1.6" fill="#5e97d8"/>
<circle cx="364.15" cy="740.41" r="1.6" fill="#5e97d8"/>
<circle cx="323.8" cy="814.58" r="1.6" fill="#5e97d8"/>
<circle cx="341.09" cy="805.31" r="1.6" fill="#5e97d8"/>
<circle cx="358.38" cy="761.27" r="1.6" fill="#5e97d8"/>
<circle cx="323.8" cy="815.74" r="1.6" fill="#5e97d8"/>
<circle cx="341.09" cy="800.67" r="1.6" fill="#5e97d8"/>
<circle cx="358.38" cy="799.51" r="1.6" fill="#5e97d8"/>
<circle cx="381.44" cy="732.29" r="1.6" fill="#5e97d8"/>
<line x1="323.8" y1="696.3" x2="323.8" y2="817.6" stroke="#141414" stroke-width="1.6" />
<line x1="323" y1="816.9" x2="498.4" y2="816.9" stroke="#141414" stroke-width="1.6" />
<line x1="319.3" y1="816.9" x2="323.8" y2="816.9" stroke="#141414" stroke-width="1.3" />
<text x="313.8" y="820.6" font-size="10.3" text-anchor="end" fill="#1e1e1e" class="m">0</text>
<line x1="319.3" y1="793.72" x2="323.8" y2="793.72" stroke="#141414" stroke-width="1.3" />
<text x="313.8" y="797.42" font-size="10.3" text-anchor="end" fill="#1e1e1e" class="m">20</text>
<line x1="319.3" y1="770.54" x2="323.8" y2="770.54" stroke="#141414" stroke-width="1.3" />
<text x="313.8" y="774.24" font-size="10.3" text-anchor="end" fill="#1e1e1e" class="m">40</text>
<line x1="319.3" y1="747.36" x2="323.8" y2="747.36" stroke="#141414" stroke-width="1.3" />
<text x="313.8" y="751.06" font-size="10.3" text-anchor="end" fill="#1e1e1e" class="m">60</text>
<line x1="319.3" y1="724.18" x2="323.8" y2="724.18" stroke="#141414" stroke-width="1.3" />
<text x="313.8" y="727.88" font-size="10.3" text-anchor="end" fill="#1e1e1e" class="m">80</text>
<line x1="319.3" y1="701" x2="323.8" y2="701" stroke="#141414" stroke-width="1.3" />
<text x="313.8" y="704.7" font-size="10.3" text-anchor="end" fill="#1e1e1e" class="m">100</text>
<line x1="323.8" y1="816.9" x2="323.8" y2="821.4" stroke="#141414" stroke-width="1.3" />
<text x="323.8" y="835.9" font-size="10.3" text-anchor="middle" fill="#1e1e1e" class="m">0</text>
<line x1="395.85" y1="816.9" x2="395.85" y2="821.4" stroke="#141414" stroke-width="1.3" />
<text x="395.85" y="835.9" font-size="10.3" text-anchor="middle" fill="#1e1e1e" class="m">50</text>
<line x1="467.9" y1="816.9" x2="467.9" y2="821.4" stroke="#141414" stroke-width="1.3" />
<text x="467.9" y="835.9" font-size="10.3" text-anchor="middle" fill="#1e1e1e" class="m">100</text>
<line x1="342.3" y1="816.9" x2="342.3" y2="821.4" stroke="#141414" stroke-width="1.3" />
<line x1="360.2" y1="816.9" x2="360.2" y2="821.4" stroke="#141414" stroke-width="1.3" />
<line x1="378.2" y1="816.9" x2="378.2" y2="821.4" stroke="#141414" stroke-width="1.3" />
<line x1="414.2" y1="816.9" x2="414.2" y2="821.4" stroke="#141414" stroke-width="1.3" />
<line x1="432.2" y1="816.9" x2="432.2" y2="821.4" stroke="#141414" stroke-width="1.3" />
<line x1="450.1" y1="816.9" x2="450.1" y2="821.4" stroke="#141414" stroke-width="1.3" />
<line x1="486.1" y1="816.9" x2="486.1" y2="821.4" stroke="#141414" stroke-width="1.3" />
<text x="287.5" y="757.5" font-size="12" text-anchor="middle" fill="#1e1e1e" textLength="83" lengthAdjust="spacingAndGlyphs" transform="rotate(-90 287.5 757.5)" class="m">%Human CD45+</text>
<text x="411.4" y="856.2" font-size="12.8" text-anchor="middle" fill="#1e1e1e" textLength="143" lengthAdjust="spacingAndGlyphs" class="m">Days post-treatment initiation</text>
<text x="12.6" y="889.8" font-size="18" text-anchor="start" fill="#000" font-weight="bold" textLength="11.6" lengthAdjust="spacingAndGlyphs" stroke="#000" stroke-width="0.5">E</text>
<text x="199" y="886.2" font-size="14" text-anchor="start" fill="#1e1e1e" textLength="183.5" lengthAdjust="spacingAndGlyphs" >CBAM-44728 (<tspan font-style="italic">KMT2A-AF10</tspan>)</text>
<text x="145" y="904.2" font-size="11.8" text-anchor="start" fill="#1e1e1e" textLength="41.5" lengthAdjust="spacingAndGlyphs" >Survival</text>
<text x="317.3" y="904.2" font-size="11.8" text-anchor="start" fill="#1e1e1e" textLength="190.6" lengthAdjust="spacingAndGlyphs" >Peripheral Blood Leukemia Burden</text>
<rect x="126.9" y="915.5" width="126.2" height="116.4" fill="#d7e2f4" />
<line x1="127.5" y1="917" x2="127.5" y2="1031.9" stroke="#141414" stroke-width="1" stroke-dasharray="1 1"/>
<text x="118.7" y="1026.2" font-size="11.2" text-anchor="start" fill="#1e1e1e" textLength="103.2" lengthAdjust="spacingAndGlyphs" transform="rotate(-90 118.7 1026.2)" class="m">Continuous Treatment</text>
<path d="M78,917 L135,917 L135,962.7 L136.2,962.7 L136.2,985.8 L139.6,985.8 L139.6,1009.3 L147.7,1009.3 L147.7,1031.9" fill="none" stroke="#5e97d8" stroke-width="1.35" stroke-linejoin="miter"/>
<path d="M135,917 L135,940.8 L190.3,940.8 L190.3,963.2 L215,963.2 L215,986.2 L217.6,986.2 L217.6,1009.3 L245.7,1009.3 L245.7,1031.9" fill="none" stroke="#841a3b" stroke-width="1.5"/>
<line x1="142.4" y1="998.5" x2="213.8" y2="998.5" stroke="#141414" stroke-width="1.4" />
<line x1="142.4" y1="996" x2="142.4" y2="1001" stroke="#141414" stroke-width="1.3" />
<line x1="213.8" y1="996" x2="213.8" y2="1001" stroke="#141414" stroke-width="1.3" />
<polygon points="178.1,990.9 178.66,992.24 180.1,992.35 179,993.29 179.33,994.7 178.1,993.95 176.87,994.7 177.2,993.29 176.1,992.35 177.54,992.24" fill="#1e1e1e"/>
<line x1="78" y1="912" x2="78" y2="1032.6" stroke="#141414" stroke-width="1.6" />
<line x1="77.2" y1="1031.9" x2="256.5" y2="1031.9" stroke="#141414" stroke-width="1.6" />
<line x1="73" y1="1031.9" x2="78" y2="1031.9" stroke="#141414" stroke-width="1.3" />
<line x1="75.4" y1="1026.16" x2="78" y2="1026.16" stroke="#141414" stroke-width="1.1" />
<line x1="75.4" y1="1020.41" x2="78" y2="1020.41" stroke="#141414" stroke-width="1.1" />
<line x1="75.4" y1="1014.67" x2="78" y2="1014.67" stroke="#141414" stroke-width="1.1" />
<line x1="75.4" y1="1008.92" x2="78" y2="1008.92" stroke="#141414" stroke-width="1.1" />
<line x1="75.4" y1="1003.18" x2="78" y2="1003.18" stroke="#141414" stroke-width="1.1" />
<line x1="75.4" y1="997.43" x2="78" y2="997.43" stroke="#141414" stroke-width="1.1" />
<line x1="75.4" y1="991.69" x2="78" y2="991.69" stroke="#141414" stroke-width="1.1" />
<line x1="75.4" y1="985.94" x2="78" y2="985.94" stroke="#141414" stroke-width="1.1" />
<line x1="75.4" y1="980.2" x2="78" y2="980.2" stroke="#141414" stroke-width="1.1" />
<line x1="73" y1="974.45" x2="78" y2="974.45" stroke="#141414" stroke-width="1.3" />
<line x1="75.4" y1="968.71" x2="78" y2="968.71" stroke="#141414" stroke-width="1.1" />
<line x1="75.4" y1="962.96" x2="78" y2="962.96" stroke="#141414" stroke-width="1.1" />
<line x1="75.4" y1="957.22" x2="78" y2="957.22" stroke="#141414" stroke-width="1.1" />
<line x1="75.4" y1="951.47" x2="78" y2="951.47" stroke="#141414" stroke-width="1.1" />
<line x1="75.4" y1="945.73" x2="78" y2="945.73" stroke="#141414" stroke-width="1.1" />
<line x1="75.4" y1="939.98" x2="78" y2="939.98" stroke="#141414" stroke-width="1.1" />
<line x1="75.4" y1="934.24" x2="78" y2="934.24" stroke="#141414" stroke-width="1.1" />
<line x1="75.4" y1="928.49" x2="78" y2="928.49" stroke="#141414" stroke-width="1.1" />
<line x1="75.4" y1="922.75" x2="78" y2="922.75" stroke="#141414" stroke-width="1.1" />
<line x1="73" y1="917" x2="78" y2="917" stroke="#141414" stroke-width="1.3" />
<text x="68" y="920.7" font-size="10.3" text-anchor="end" fill="#1e1e1e" class="m">100</text>
<text x="68" y="978.15" font-size="10.3" text-anchor="end" fill="#1e1e1e" class="m">50</text>
<text x="68" y="1035.6" font-size="10.3" text-anchor="end" fill="#1e1e1e" class="m">0</text>
<line x1="78" y1="1031.9" x2="78" y2="1036.4" stroke="#141414" stroke-width="1.3" />
<text x="78" y="1050.9" font-size="10.3" text-anchor="middle" fill="#1e1e1e" class="m">0</text>
<line x1="127.7" y1="1031.9" x2="127.7" y2="1036.4" stroke="#141414" stroke-width="1.3" />
<text x="127.7" y="1050.9" font-size="10.3" text-anchor="middle" fill="#1e1e1e" class="m">50</text>
<line x1="177.4" y1="1031.9" x2="177.4" y2="1036.4" stroke="#141414" stroke-width="1.3" />
<text x="177.4" y="1050.9" font-size="10.3" text-anchor="middle" fill="#1e1e1e" class="m">100</text>
<line x1="227.1" y1="1031.9" x2="227.1" y2="1036.4" stroke="#141414" stroke-width="1.3" />
<text x="227.1" y="1050.9" font-size="10.3" text-anchor="middle" fill="#1e1e1e" class="m">150</text>
<line x1="102.85" y1="1031.9" x2="102.85" y2="1034.7" stroke="#141414" stroke-width="1.1" />
<line x1="152.55" y1="1031.9" x2="152.55" y2="1034.7" stroke="#141414" stroke-width="1.1" />
<line x1="202.25" y1="1031.9" x2="202.25" y2="1034.7" stroke="#141414" stroke-width="1.1" />
<line x1="251.95" y1="1031.9" x2="251.95" y2="1034.7" stroke="#141414" stroke-width="1.1" />
<text x="40.8" y="972.5" font-size="12" text-anchor="middle" fill="#1e1e1e" textLength="104" lengthAdjust="spacingAndGlyphs" transform="rotate(-90 40.8 972.5)" class="m">Probability of survival</text>
<text x="167.7" y="1071.2" font-size="12.8" text-anchor="middle" fill="#1e1e1e" textLength="113.7" lengthAdjust="spacingAndGlyphs" class="m">Days post-PDX injection</text>
<rect x="323.6" y="915" width="174.8" height="117.4" fill="#d7e2f4" />
<polyline points="323.6,947.07 334.21,920.48 349.15,981.55 366.04,952.29 380.84,955.77 400.38,956.94 412.94,916.76" fill="none" stroke="#841a3b" stroke-width="1.5" stroke-linejoin="miter" />
<polyline points="323.6,949.27 334.77,932.55" fill="none" stroke="#841a3b" stroke-width="1.5" stroke-linejoin="miter" />
<polyline points="323.6,976.67 335.33,964.13 349.15,1007.67 366.04,1028.45 380.84,1031.24 400.38,1031.24 415.74,1028.57 432.49,1018.47 445.05,963.9" fill="none" stroke="#841a3b" stroke-width="1.5" stroke-linejoin="miter" />
<polyline points="323.6,975.51 335.33,961.58 349.15,1026.71 366.04,1028.1 380.84,1030.08 400.38,1031.82 415.74,1032.4 432.49,1019.05 445.05,979.34 450.64,967.38" fill="none" stroke="#841a3b" stroke-width="1.5" stroke-linejoin="miter" />
<polyline points="323.6,985.96 334.21,1024.04 349.15,1031.82 366.04,1032.4 380.84,1032.4 400.38,1032.4 415.74,1032.4 432.49,1030.89 445.05,1027.76 461.8,1021.95 479.95,1005.12 489.72,968.55" fill="none" stroke="#841a3b" stroke-width="1.5" stroke-linejoin="miter" />
<rect x="321.6" y="945.07" width="4" height="4" fill="#841a3b"/>
<rect x="332.21" y="918.48" width="4" height="4" fill="#841a3b"/>
<rect x="347.15" y="979.55" width="4" height="4" fill="#841a3b"/>
<rect x="364.04" y="950.29" width="4" height="4" fill="#841a3b"/>
<rect x="378.84" y="953.77" width="4" height="4" fill="#841a3b"/>
<rect x="398.38" y="954.94" width="4" height="4" fill="#841a3b"/>
<rect x="410.94" y="914.76" width="4" height="4" fill="#841a3b"/>
<rect x="321.6" y="947.27" width="4" height="4" fill="#841a3b"/>
<rect x="332.77" y="930.55" width="4" height="4" fill="#841a3b"/>
<rect x="321.6" y="974.67" width="4" height="4" fill="#841a3b"/>
<rect x="333.33" y="962.13" width="4" height="4" fill="#841a3b"/>
<rect x="347.15" y="1005.67" width="4" height="4" fill="#841a3b"/>
<rect x="364.04" y="1026.45" width="4" height="4" fill="#841a3b"/>
<rect x="378.84" y="1029.24" width="4" height="4" fill="#841a3b"/>
<rect x="398.38" y="1029.24" width="4" height="4" fill="#841a3b"/>
<rect x="413.74" y="1026.57" width="4" height="4" fill="#841a3b"/>
<rect x="430.49" y="1016.47" width="4" height="4" fill="#841a3b"/>
<rect x="443.05" y="961.9" width="4" height="4" fill="#841a3b"/>
<rect x="321.6" y="973.51" width="4" height="4" fill="#841a3b"/>
<rect x="333.33" y="959.58" width="4" height="4" fill="#841a3b"/>
<rect x="347.15" y="1024.71" width="4" height="4" fill="#841a3b"/>
<rect x="364.04" y="1026.1" width="4" height="4" fill="#841a3b"/>
<rect x="378.84" y="1028.08" width="4" height="4" fill="#841a3b"/>
<rect x="398.38" y="1029.82" width="4" height="4" fill="#841a3b"/>
<rect x="413.74" y="1030.4" width="4" height="4" fill="#841a3b"/>
<rect x="430.49" y="1017.05" width="4" height="4" fill="#841a3b"/>
<rect x="443.05" y="977.34" width="4" height="4" fill="#841a3b"/>
<rect x="448.64" y="965.38" width="4" height="4" fill="#841a3b"/>
<rect x="321.6" y="983.96" width="4" height="4" fill="#841a3b"/>
<rect x="332.21" y="1022.04" width="4" height="4" fill="#841a3b"/>
<rect x="347.15" y="1029.82" width="4" height="4" fill="#841a3b"/>
<rect x="364.04" y="1030.4" width="4" height="4" fill="#841a3b"/>
<rect x="378.84" y="1030.4" width="4" height="4" fill="#841a3b"/>
<rect x="398.38" y="1030.4" width="4" height="4" fill="#841a3b"/>
<rect x="413.74" y="1030.4" width="4" height="4" fill="#841a3b"/>
<rect x="430.49" y="1028.89" width="4" height="4" fill="#841a3b"/>
<rect x="443.05" y="1025.76" width="4" height="4" fill="#841a3b"/>
<rect x="459.8" y="1019.95" width="4" height="4" fill="#841a3b"/>
<rect x="477.95" y="1003.12" width="4" height="4" fill="#841a3b"/>
<rect x="487.72" y="966.55" width="4" height="4" fill="#841a3b"/>
<polyline points="323.6,1018.93 338.12,918.85" fill="none" stroke="#5e97d8" stroke-width="1.4" stroke-linejoin="miter" />
<polyline points="323.6,1009.18 336.16,925.59" fill="none" stroke="#5e97d8" stroke-width="1.4" stroke-linejoin="miter" />
<polyline points="323.6,990.84 341.47,928.72" fill="none" stroke="#5e97d8" stroke-width="1.4" stroke-linejoin="miter" />
<polyline points="323.6,987.12 334.77,956.94 337.56,924.43" fill="none" stroke="#5e97d8" stroke-width="1.4" stroke-linejoin="miter" />
<polyline points="323.6,989.44 334.21,979.34 349.15,932.55 352.92,921.64" fill="none" stroke="#5e97d8" stroke-width="1.4" stroke-linejoin="miter" />
<circle cx="323.6" cy="1018.93" r="1.7" fill="#5e97d8"/>
<circle cx="338.12" cy="918.85" r="1.7" fill="#5e97d8"/>
<circle cx="323.6" cy="1009.18" r="1.7" fill="#5e97d8"/>
<circle cx="336.16" cy="925.59" r="1.7" fill="#5e97d8"/>
<circle cx="323.6" cy="990.84" r="1.7" fill="#5e97d8"/>
<circle cx="341.47" cy="928.72" r="1.7" fill="#5e97d8"/>
<circle cx="323.6" cy="987.12" r="1.7" fill="#5e97d8"/>
<circle cx="334.77" cy="956.94" r="1.7" fill="#5e97d8"/>
<circle cx="337.56" cy="924.43" r="1.7" fill="#5e97d8"/>
<circle cx="323.6" cy="989.44" r="1.7" fill="#5e97d8"/>
<circle cx="334.21" cy="979.34" r="1.7" fill="#5e97d8"/>
<circle cx="349.15" cy="932.55" r="1.7" fill="#5e97d8"/>
<circle cx="352.92" cy="921.64" r="1.7" fill="#5e97d8"/>
<line x1="323.6" y1="911.5" x2="323.6" y2="1033.1" stroke="#141414" stroke-width="1.6" />
<line x1="322.8" y1="1032.4" x2="503.2" y2="1032.4" stroke="#141414" stroke-width="1.6" />
<line x1="319.1" y1="1032.4" x2="323.6" y2="1032.4" stroke="#141414" stroke-width="1.3" />
<text x="313.6" y="1036.1" font-size="10.3" text-anchor="end" fill="#1e1e1e" class="m">0</text>
<line x1="319.1" y1="1009.18" x2="323.6" y2="1009.18" stroke="#141414" stroke-width="1.3" />
<text x="313.6" y="1012.88" font-size="10.3" text-anchor="end" fill="#1e1e1e" class="m">20</text>
<line x1="319.1" y1="985.96" x2="323.6" y2="985.96" stroke="#141414" stroke-width="1.3" />
<text x="313.6" y="989.66" font-size="10.3" text-anchor="end" fill="#1e1e1e" class="m">40</text>
<line x1="319.1" y1="962.74" x2="323.6" y2="962.74" stroke="#141414" stroke-width="1.3" />
<text x="313.6" y="966.44" font-size="10.3" text-anchor="end" fill="#1e1e1e" class="m">60</text>
<line x1="319.1" y1="939.52" x2="323.6" y2="939.52" stroke="#141414" stroke-width="1.3" />
<text x="313.6" y="943.22" font-size="10.3" text-anchor="end" fill="#1e1e1e" class="m">80</text>
<line x1="319.1" y1="916.3" x2="323.6" y2="916.3" stroke="#141414" stroke-width="1.3" />
<text x="313.6" y="920" font-size="10.3" text-anchor="end" fill="#1e1e1e" class="m">100</text>
<line x1="323.5" y1="1032.4" x2="323.5" y2="1036.9" stroke="#141414" stroke-width="1.3" />
<text x="323.5" y="1051.4" font-size="10.3" text-anchor="middle" fill="#1e1e1e" class="m">0</text>
<line x1="393.4" y1="1032.4" x2="393.4" y2="1036.9" stroke="#141414" stroke-width="1.3" />
<text x="393.4" y="1051.4" font-size="10.3" text-anchor="middle" fill="#1e1e1e" class="m">50</text>
<line x1="463.2" y1="1032.4" x2="463.2" y2="1036.9" stroke="#141414" stroke-width="1.3" />
<text x="463.2" y="1051.4" font-size="10.3" text-anchor="middle" fill="#1e1e1e" class="m">100</text>
<line x1="358.4" y1="1032.4" x2="358.4" y2="1036.9" stroke="#141414" stroke-width="1.3" />
<line x1="428.3" y1="1032.4" x2="428.3" y2="1036.9" stroke="#141414" stroke-width="1.3" />
<line x1="498.1" y1="1032.4" x2="498.1" y2="1036.9" stroke="#141414" stroke-width="1.3" />
<text x="287.5" y="972.8" font-size="12" text-anchor="middle" fill="#1e1e1e" textLength="83" lengthAdjust="spacingAndGlyphs" transform="rotate(-90 287.5 972.8)" class="m">%Human CD45+</text>
<text x="413.2" y="1070.9" font-size="12.8" text-anchor="middle" fill="#1e1e1e" textLength="144" lengthAdjust="spacingAndGlyphs" class="m">Days post-treatment initiation</text>
<text x="92.4" y="1092.8" font-size="10.8" text-anchor="start" fill="#1e1e1e" textLength="102.2" lengthAdjust="spacingAndGlyphs" >Legend for all models</text>
<line x1="92.4" y1="1105.5" x2="115.6" y2="1105.5" stroke="#5e97d8" stroke-width="1.2" />
<circle cx="103.8" cy="1105.5" r="2.8" fill="#5e97d8"/>
<text x="119.5" y="1109.5" font-size="11.2" text-anchor="start" fill="#1e1e1e" textLength="33.5" lengthAdjust="spacingAndGlyphs" >Vehicle</text>
<line x1="92.4" y1="1121.7" x2="115.6" y2="1121.7" stroke="#272d5c" stroke-width="1.2" />
<path d="M103.8,1118.1 L100.7,1124.1 L106.9,1124.1 Z" fill="#272d5c"/>
<text x="119.5" y="1125.7" font-size="11.2" text-anchor="start" fill="#1e1e1e" textLength="132.5" lengthAdjust="spacingAndGlyphs" >Lenalidomide 50 mg/kg/day</text>
<line x1="267.3" y1="1105.5" x2="290.1" y2="1105.5" stroke="#549c32" stroke-width="1.2" />
<rect x="275.5" y="1102.6" width="6" height="5.8" fill="#549c32"/>
<text x="294.3" y="1109.5" font-size="11.2" text-anchor="start" fill="#1e1e1e" textLength="134.5" lengthAdjust="spacingAndGlyphs" >Mezigdomide 10 mg/kg/day</text>
<line x1="267.3" y1="1121.7" x2="290.1" y2="1121.7" stroke="#841a3b" stroke-width="1.2" />
<rect x="275.5" y="1118.8" width="6" height="5.8" fill="#841a3b"/>
<text x="294.3" y="1125.7" font-size="11.2" text-anchor="start" fill="#1e1e1e" textLength="129.3" lengthAdjust="spacingAndGlyphs" >Mezigdomide 3 mg/kg/day</text>
<rect x="0.55" y="0.5" width="518.9" height="1138" fill="none" stroke="#111" stroke-width="1.15"/>
</svg></body></html>
